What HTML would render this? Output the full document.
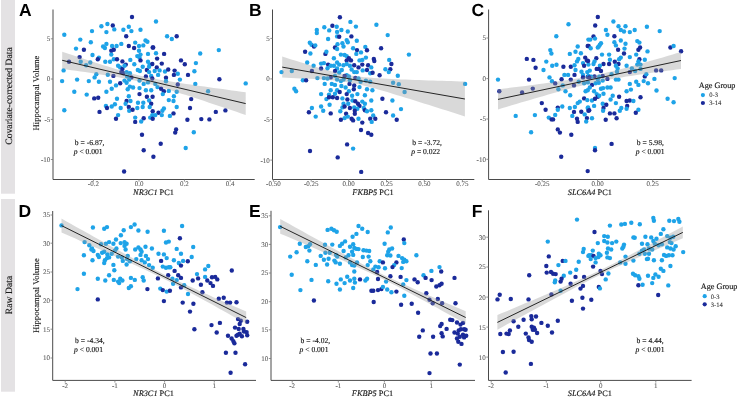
<!DOCTYPE html>
<html><head><meta charset="utf-8"><style>
html,body{margin:0;padding:0;background:#fff;width:739px;height:398px;overflow:hidden}
svg{display:block;will-change:transform}
text{text-rendering:geometricPrecision;font-family:"Liberation Serif",serif}
.s{stroke:currentColor;stroke-width:0.13px}
.t{stroke:currentColor;stroke-width:0.08px}
</style></head><body>
<svg width="739" height="398" viewBox="0 0 739 398"><rect x="1" y="0" width="14" height="193.7" fill="#e4e2e4"/><rect x="1" y="199" width="14" height="192.7" fill="#e4e2e4"/><text transform="translate(12.3,96) rotate(-90)" text-anchor="middle" font-family="Liberation Serif" font-size="9.7" fill="#1a1a1a" class="s" color="#1a1a1a">Covariate-corrected Data</text><text transform="translate(12.3,295) rotate(-90)" text-anchor="middle" font-family="Liberation Serif" font-size="9.7" fill="#1a1a1a" class="s" color="#1a1a1a">Raw Data</text><text transform="translate(39.3,93) rotate(-90)" text-anchor="middle" font-family="Liberation Serif" font-size="8.6" fill="#111" class="s" color="#111">Hippocampal Volume</text><text transform="translate(39.3,295.6) rotate(-90)" text-anchor="middle" font-family="Liberation Serif" font-size="8.6" fill="#111" class="s" color="#111">Hippocampal Volume</text><g><circle cx="132.0" cy="17.0" r="2.2" fill="#1a2a9a"/><circle cx="64.3" cy="34.7" r="2.2" fill="#1ea3e8"/><circle cx="101.4" cy="26.2" r="2.2" fill="#1ea3e8"/><circle cx="107.4" cy="24.0" r="2.2" fill="#1ea3e8"/><circle cx="112.8" cy="25.5" r="2.2" fill="#1a2a9a"/><circle cx="114.3" cy="29.4" r="2.2" fill="#1ea3e8"/><circle cx="106.4" cy="32.1" r="2.2" fill="#1ea3e8"/><circle cx="92.0" cy="31.1" r="2.2" fill="#1ea3e8"/><circle cx="123.4" cy="29.8" r="2.2" fill="#1ea3e8"/><circle cx="128.8" cy="26.8" r="2.2" fill="#1ea3e8"/><circle cx="131.4" cy="31.1" r="2.2" fill="#1ea3e8"/><circle cx="140.5" cy="29.8" r="2.2" fill="#1ea3e8"/><circle cx="126.2" cy="36.2" r="2.2" fill="#1a2a9a"/><circle cx="80.3" cy="39.6" r="2.2" fill="#1ea3e8"/><circle cx="90.8" cy="42.2" r="2.2" fill="#1ea3e8"/><circle cx="76.0" cy="48.6" r="2.2" fill="#1ea3e8"/><circle cx="83.9" cy="49.7" r="2.2" fill="#1a2a9a"/><circle cx="103.1" cy="46.5" r="2.2" fill="#1ea3e8"/><circle cx="104.9" cy="48.0" r="2.2" fill="#1ea3e8"/><circle cx="106.4" cy="43.9" r="2.2" fill="#1ea3e8"/><circle cx="112.1" cy="46.0" r="2.2" fill="#1ea3e8"/><circle cx="116.6" cy="46.0" r="2.2" fill="#1ea3e8"/><circle cx="121.3" cy="43.9" r="2.2" fill="#1ea3e8"/><circle cx="128.8" cy="46.0" r="2.2" fill="#1a2a9a"/><circle cx="134.1" cy="48.0" r="2.2" fill="#1a2a9a"/><circle cx="135.2" cy="42.6" r="2.2" fill="#1ea3e8"/><circle cx="139.0" cy="46.0" r="2.2" fill="#1ea3e8"/><circle cx="143.3" cy="45.4" r="2.2" fill="#1ea3e8"/><circle cx="145.5" cy="40.5" r="2.2" fill="#1ea3e8"/><circle cx="147.4" cy="41.8" r="2.2" fill="#1ea3e8"/><circle cx="152.7" cy="47.5" r="2.2" fill="#1a2a9a"/><circle cx="111.3" cy="50.7" r="2.2" fill="#1a2a9a"/><circle cx="113.8" cy="49.7" r="2.2" fill="#1a2a9a"/><circle cx="111.3" cy="54.6" r="2.2" fill="#1ea3e8"/><circle cx="92.5" cy="55.0" r="2.2" fill="#1ea3e8"/><circle cx="98.9" cy="57.6" r="2.2" fill="#1ea3e8"/><circle cx="97.8" cy="59.3" r="2.2" fill="#1a2a9a"/><circle cx="79.6" cy="57.1" r="2.2" fill="#1a2a9a"/><circle cx="113.8" cy="59.3" r="2.2" fill="#1ea3e8"/><circle cx="117.0" cy="59.3" r="2.2" fill="#1a2a9a"/><circle cx="105.3" cy="61.8" r="2.2" fill="#1ea3e8"/><circle cx="110.0" cy="61.8" r="2.2" fill="#1ea3e8"/><circle cx="122.4" cy="61.4" r="2.2" fill="#1a2a9a"/><circle cx="125.8" cy="64.6" r="2.2" fill="#1a2a9a"/><circle cx="130.3" cy="59.9" r="2.2" fill="#1ea3e8"/><circle cx="134.3" cy="64.2" r="2.2" fill="#1ea3e8"/><circle cx="139.0" cy="50.7" r="2.2" fill="#1ea3e8"/><circle cx="140.5" cy="54.6" r="2.2" fill="#1ea3e8"/><circle cx="139.5" cy="57.6" r="2.2" fill="#1ea3e8"/><circle cx="140.5" cy="60.4" r="2.2" fill="#1a2a9a"/><circle cx="137.3" cy="56.1" r="2.2" fill="#1ea3e8"/><circle cx="148.0" cy="53.9" r="2.2" fill="#1ea3e8"/><circle cx="148.0" cy="61.8" r="2.2" fill="#1ea3e8"/><circle cx="149.7" cy="64.6" r="2.2" fill="#1ea3e8"/><circle cx="152.3" cy="64.0" r="2.2" fill="#1a2a9a"/><circle cx="69.0" cy="61.8" r="2.2" fill="#1a2a9a"/><circle cx="80.7" cy="61.8" r="2.2" fill="#1ea3e8"/><circle cx="86.1" cy="65.3" r="2.2" fill="#1ea3e8"/><circle cx="90.3" cy="62.5" r="2.2" fill="#1ea3e8"/><circle cx="63.6" cy="70.4" r="2.2" fill="#1ea3e8"/><circle cx="62.1" cy="81.1" r="2.2" fill="#1ea3e8"/><circle cx="77.1" cy="79.6" r="2.2" fill="#1ea3e8"/><circle cx="88.8" cy="81.1" r="2.2" fill="#1ea3e8"/><circle cx="94.6" cy="77.4" r="2.2" fill="#1ea3e8"/><circle cx="98.9" cy="81.7" r="2.2" fill="#1ea3e8"/><circle cx="96.3" cy="74.2" r="2.2" fill="#1ea3e8"/><circle cx="107.8" cy="74.7" r="2.2" fill="#1ea3e8"/><circle cx="113.4" cy="75.9" r="2.2" fill="#1a2a9a"/><circle cx="110.0" cy="81.7" r="2.2" fill="#1ea3e8"/><circle cx="118.1" cy="65.7" r="2.2" fill="#1ea3e8"/><circle cx="120.2" cy="67.4" r="2.2" fill="#1ea3e8"/><circle cx="122.4" cy="68.9" r="2.2" fill="#1a2a9a"/><circle cx="124.5" cy="65.7" r="2.2" fill="#1ea3e8"/><circle cx="121.3" cy="72.1" r="2.2" fill="#1a2a9a"/><circle cx="123.4" cy="73.2" r="2.2" fill="#1a2a9a"/><circle cx="126.6" cy="72.1" r="2.2" fill="#1ea3e8"/><circle cx="129.9" cy="73.2" r="2.2" fill="#1ea3e8"/><circle cx="131.4" cy="77.4" r="2.2" fill="#1a2a9a"/><circle cx="127.1" cy="76.4" r="2.2" fill="#1ea3e8"/><circle cx="129.2" cy="79.6" r="2.2" fill="#1ea3e8"/><circle cx="124.5" cy="80.6" r="2.2" fill="#1ea3e8"/><circle cx="120.2" cy="83.2" r="2.2" fill="#1a2a9a"/><circle cx="126.6" cy="82.8" r="2.2" fill="#1ea3e8"/><circle cx="116.0" cy="85.4" r="2.2" fill="#1ea3e8"/><circle cx="111.7" cy="88.8" r="2.2" fill="#1ea3e8"/><circle cx="129.9" cy="86.6" r="2.2" fill="#1ea3e8"/><circle cx="127.7" cy="89.2" r="2.2" fill="#1ea3e8"/><circle cx="133.1" cy="87.5" r="2.2" fill="#1ea3e8"/><circle cx="137.8" cy="70.0" r="2.2" fill="#1ea3e8"/><circle cx="139.9" cy="71.0" r="2.2" fill="#1ea3e8"/><circle cx="142.7" cy="66.8" r="2.2" fill="#1ea3e8"/><circle cx="146.9" cy="70.0" r="2.2" fill="#1a2a9a"/><circle cx="149.1" cy="72.1" r="2.2" fill="#1ea3e8"/><circle cx="145.9" cy="76.4" r="2.2" fill="#1a2a9a"/><circle cx="151.2" cy="75.9" r="2.2" fill="#1ea3e8"/><circle cx="152.3" cy="78.5" r="2.2" fill="#1a2a9a"/><circle cx="139.5" cy="80.6" r="2.2" fill="#1ea3e8"/><circle cx="143.7" cy="83.9" r="2.2" fill="#1ea3e8"/><circle cx="148.0" cy="82.4" r="2.2" fill="#1ea3e8"/><circle cx="139.5" cy="88.1" r="2.2" fill="#1ea3e8"/><circle cx="145.9" cy="90.3" r="2.2" fill="#1ea3e8"/><circle cx="151.2" cy="90.3" r="2.2" fill="#1ea3e8"/><circle cx="74.3" cy="91.8" r="2.2" fill="#1ea3e8"/><circle cx="106.4" cy="91.8" r="2.2" fill="#1ea3e8"/><circle cx="149.1" cy="66.8" r="2.2" fill="#1ea3e8"/><circle cx="156.0" cy="21.5" r="2.2" fill="#1ea3e8"/><circle cx="167.1" cy="36.2" r="2.2" fill="#1ea3e8"/><circle cx="171.8" cy="39.0" r="2.2" fill="#1ea3e8"/><circle cx="176.7" cy="36.2" r="2.2" fill="#1a2a9a"/><circle cx="153.2" cy="47.5" r="2.2" fill="#1a2a9a"/><circle cx="156.0" cy="53.3" r="2.2" fill="#1ea3e8"/><circle cx="164.1" cy="53.9" r="2.2" fill="#1a2a9a"/><circle cx="157.1" cy="58.6" r="2.2" fill="#1a2a9a"/><circle cx="156.8" cy="67.4" r="2.2" fill="#1a2a9a"/><circle cx="161.8" cy="63.6" r="2.2" fill="#1a2a9a"/><circle cx="159.6" cy="70.4" r="2.2" fill="#1ea3e8"/><circle cx="154.7" cy="71.0" r="2.2" fill="#1ea3e8"/><circle cx="165.0" cy="71.5" r="2.2" fill="#1ea3e8"/><circle cx="168.2" cy="69.5" r="2.2" fill="#1a2a9a"/><circle cx="174.6" cy="70.6" r="2.2" fill="#1a2a9a"/><circle cx="177.8" cy="73.8" r="2.2" fill="#1ea3e8"/><circle cx="173.9" cy="74.9" r="2.2" fill="#1a2a9a"/><circle cx="158.1" cy="74.9" r="2.2" fill="#1ea3e8"/><circle cx="166.0" cy="77.7" r="2.2" fill="#1a2a9a"/><circle cx="179.9" cy="79.6" r="2.2" fill="#1ea3e8"/><circle cx="188.0" cy="74.9" r="2.2" fill="#1a2a9a"/><circle cx="181.0" cy="60.4" r="2.2" fill="#1a2a9a"/><circle cx="184.8" cy="64.2" r="2.2" fill="#1a2a9a"/><circle cx="195.9" cy="63.1" r="2.2" fill="#1ea3e8"/><circle cx="194.4" cy="71.2" r="2.2" fill="#1ea3e8"/><circle cx="200.2" cy="53.5" r="2.2" fill="#1ea3e8"/><circle cx="218.8" cy="50.1" r="2.2" fill="#1ea3e8"/><circle cx="219.4" cy="79.2" r="2.2" fill="#1a2a9a"/><circle cx="195.3" cy="83.9" r="2.2" fill="#1ea3e8"/><circle cx="245.7" cy="83.4" r="2.2" fill="#1ea3e8"/><circle cx="177.8" cy="84.5" r="2.2" fill="#1a2a9a"/><circle cx="166.0" cy="81.3" r="2.2" fill="#1ea3e8"/><circle cx="155.3" cy="83.9" r="2.2" fill="#1ea3e8"/><circle cx="157.5" cy="87.1" r="2.2" fill="#1ea3e8"/><circle cx="161.1" cy="88.8" r="2.2" fill="#1a2a9a"/><circle cx="163.9" cy="91.3" r="2.2" fill="#1a2a9a"/><circle cx="168.8" cy="90.9" r="2.2" fill="#1ea3e8"/><circle cx="176.7" cy="91.8" r="2.2" fill="#1ea3e8"/><circle cx="208.1" cy="91.3" r="2.2" fill="#1ea3e8"/><circle cx="86.7" cy="94.6" r="2.2" fill="#1ea3e8"/><circle cx="64.3" cy="110.2" r="2.2" fill="#1ea3e8"/><circle cx="94.2" cy="98.4" r="2.2" fill="#1a2a9a"/><circle cx="98.2" cy="97.8" r="2.2" fill="#1a2a9a"/><circle cx="99.5" cy="111.9" r="2.2" fill="#1a2a9a"/><circle cx="105.9" cy="105.9" r="2.2" fill="#1ea3e8"/><circle cx="107.0" cy="108.0" r="2.2" fill="#1a2a9a"/><circle cx="111.7" cy="106.5" r="2.2" fill="#1ea3e8"/><circle cx="114.9" cy="104.2" r="2.2" fill="#1ea3e8"/><circle cx="117.0" cy="98.8" r="2.2" fill="#1ea3e8"/><circle cx="120.7" cy="108.0" r="2.2" fill="#1ea3e8"/><circle cx="118.1" cy="115.1" r="2.2" fill="#1ea3e8"/><circle cx="116.0" cy="118.7" r="2.2" fill="#1a2a9a"/><circle cx="126.6" cy="101.0" r="2.2" fill="#1a2a9a"/><circle cx="125.6" cy="103.8" r="2.2" fill="#1ea3e8"/><circle cx="128.8" cy="96.3" r="2.2" fill="#1ea3e8"/><circle cx="130.5" cy="101.0" r="2.2" fill="#1ea3e8"/><circle cx="128.8" cy="107.0" r="2.2" fill="#1a2a9a"/><circle cx="129.2" cy="110.8" r="2.2" fill="#1ea3e8"/><circle cx="132.6" cy="109.7" r="2.2" fill="#1a2a9a"/><circle cx="137.3" cy="108.0" r="2.2" fill="#1ea3e8"/><circle cx="138.0" cy="102.7" r="2.2" fill="#1ea3e8"/><circle cx="143.3" cy="102.7" r="2.2" fill="#1ea3e8"/><circle cx="142.7" cy="107.0" r="2.2" fill="#1ea3e8"/><circle cx="146.9" cy="96.7" r="2.2" fill="#1a2a9a"/><circle cx="149.1" cy="100.5" r="2.2" fill="#1ea3e8"/><circle cx="151.2" cy="103.8" r="2.2" fill="#1a2a9a"/><circle cx="149.7" cy="107.0" r="2.2" fill="#1ea3e8"/><circle cx="152.7" cy="111.2" r="2.2" fill="#1a2a9a"/><circle cx="152.3" cy="115.1" r="2.2" fill="#1ea3e8"/><circle cx="150.2" cy="117.6" r="2.2" fill="#1ea3e8"/><circle cx="152.7" cy="118.7" r="2.2" fill="#1a2a9a"/><circle cx="143.7" cy="118.3" r="2.2" fill="#1a2a9a"/><circle cx="141.2" cy="121.5" r="2.2" fill="#1ea3e8"/><circle cx="135.2" cy="121.9" r="2.2" fill="#1a2a9a"/><circle cx="135.2" cy="117.6" r="2.2" fill="#1ea3e8"/><circle cx="139.5" cy="94.1" r="2.2" fill="#1a2a9a"/><circle cx="142.0" cy="134.7" r="2.2" fill="#1a2a9a"/><circle cx="143.7" cy="150.3" r="2.2" fill="#1a2a9a"/><circle cx="153.4" cy="156.7" r="2.2" fill="#1a2a9a"/><circle cx="124.1" cy="171.5" r="2.2" fill="#1a2a9a"/><circle cx="152.6" cy="96.7" r="2.2" fill="#1a2a9a"/><circle cx="162.8" cy="94.1" r="2.2" fill="#1ea3e8"/><circle cx="173.9" cy="96.3" r="2.2" fill="#1ea3e8"/><circle cx="168.8" cy="100.1" r="2.2" fill="#1ea3e8"/><circle cx="173.5" cy="101.0" r="2.2" fill="#1ea3e8"/><circle cx="191.2" cy="99.1" r="2.2" fill="#1a2a9a"/><circle cx="190.0" cy="108.0" r="2.2" fill="#1a2a9a"/><circle cx="176.7" cy="107.0" r="2.2" fill="#1ea3e8"/><circle cx="163.9" cy="108.5" r="2.2" fill="#1ea3e8"/><circle cx="162.4" cy="110.8" r="2.2" fill="#1ea3e8"/><circle cx="158.5" cy="112.7" r="2.2" fill="#1a2a9a"/><circle cx="173.5" cy="113.4" r="2.2" fill="#1a2a9a"/><circle cx="169.9" cy="115.9" r="2.2" fill="#1ea3e8"/><circle cx="161.8" cy="115.1" r="2.2" fill="#1ea3e8"/><circle cx="155.3" cy="115.1" r="2.2" fill="#1ea3e8"/><circle cx="187.4" cy="119.8" r="2.2" fill="#1a2a9a"/><circle cx="201.3" cy="119.1" r="2.2" fill="#1a2a9a"/><circle cx="209.4" cy="119.4" r="2.2" fill="#1a2a9a"/><circle cx="215.8" cy="111.9" r="2.2" fill="#1a2a9a"/><circle cx="225.4" cy="110.4" r="2.2" fill="#1a2a9a"/><circle cx="176.1" cy="129.4" r="2.2" fill="#1a2a9a"/><circle cx="175.2" cy="132.6" r="2.2" fill="#1a2a9a"/><circle cx="193.8" cy="132.2" r="2.2" fill="#1ea3e8"/><circle cx="160.7" cy="143.7" r="2.2" fill="#1a2a9a"/><circle cx="185.7" cy="148.0" r="2.2" fill="#1ea3e8"/><path d="M62.2,51.7 L66.8,53.2 L71.4,54.7 L76.0,56.3 L80.6,57.8 L85.1,59.3 L89.7,60.8 L94.3,62.3 L98.9,63.7 L103.5,65.2 L108.1,66.6 L112.7,68.1 L117.2,69.5 L121.8,70.8 L126.4,72.1 L131.0,73.4 L135.6,74.6 L140.2,75.7 L144.8,76.7 L149.4,77.7 L153.9,78.6 L158.5,79.5 L163.1,80.3 L167.7,81.1 L172.3,81.8 L176.9,82.5 L181.5,83.2 L186.1,83.9 L190.6,84.6 L195.2,85.3 L199.8,85.9 L204.4,86.6 L209.0,87.2 L213.6,87.9 L218.2,88.5 L222.8,89.1 L227.4,89.8 L231.9,90.4 L236.5,91.0 L241.1,91.7 L245.7,92.3 L245.7,114.9 L241.1,113.4 L236.5,111.8 L231.9,110.3 L227.4,108.8 L222.8,107.2 L218.2,105.7 L213.6,104.2 L209.0,102.7 L204.4,101.1 L199.8,99.6 L195.2,98.1 L190.6,96.6 L186.1,95.1 L181.5,93.7 L176.9,92.2 L172.3,90.7 L167.7,89.3 L163.1,87.9 L158.5,86.6 L153.9,85.3 L149.4,84.0 L144.8,82.8 L140.2,81.7 L135.6,80.7 L131.0,79.7 L126.4,78.8 L121.8,77.9 L117.2,77.1 L112.7,76.3 L108.1,75.6 L103.5,74.9 L98.9,74.2 L94.3,73.5 L89.7,72.8 L85.1,72.1 L80.6,71.5 L76.0,70.8 L71.4,70.2 L66.8,69.5 L62.2,68.9 Z" fill="#999" fill-opacity="0.37"/><line x1="62.2" y1="60.3" x2="245.7" y2="103.6" stroke="#1a1a1a" stroke-width="0.95"/><path d="M53,9.5 V179.5 H254.7" fill="none" stroke="#4a4a4a" stroke-width="1"/><line x1="93.4" y1="179.5" x2="93.4" y2="181.7" stroke="#777" stroke-width="0.8"/><text x="93.4" y="186.4" text-anchor="middle" font-family="Liberation Serif" font-size="7" fill="#5a5a5a" class="t" color="#5a5a5a">-0.2</text><line x1="139" y1="179.5" x2="139" y2="181.7" stroke="#777" stroke-width="0.8"/><text x="139" y="186.4" text-anchor="middle" font-family="Liberation Serif" font-size="7" fill="#5a5a5a" class="t" color="#5a5a5a">0.0</text><line x1="184.4" y1="179.5" x2="184.4" y2="181.7" stroke="#777" stroke-width="0.8"/><text x="184.4" y="186.4" text-anchor="middle" font-family="Liberation Serif" font-size="7" fill="#5a5a5a" class="t" color="#5a5a5a">0.2</text><line x1="230.2" y1="179.5" x2="230.2" y2="181.7" stroke="#777" stroke-width="0.8"/><text x="230.2" y="186.4" text-anchor="middle" font-family="Liberation Serif" font-size="7" fill="#5a5a5a" class="t" color="#5a5a5a">0.4</text><line x1="50.8" y1="38.8" x2="53" y2="38.8" stroke="#777" stroke-width="0.8"/><text x="50.3" y="41.199999999999996" text-anchor="end" font-family="Liberation Serif" font-size="7" fill="#5a5a5a" class="t" color="#5a5a5a">5</text><line x1="50.8" y1="79" x2="53" y2="79" stroke="#777" stroke-width="0.8"/><text x="50.3" y="81.4" text-anchor="end" font-family="Liberation Serif" font-size="7" fill="#5a5a5a" class="t" color="#5a5a5a">0</text><line x1="50.8" y1="119.4" x2="53" y2="119.4" stroke="#777" stroke-width="0.8"/><text x="50.3" y="121.80000000000001" text-anchor="end" font-family="Liberation Serif" font-size="7" fill="#5a5a5a" class="t" color="#5a5a5a">-5</text><line x1="50.8" y1="159.5" x2="53" y2="159.5" stroke="#777" stroke-width="0.8"/><text x="50.3" y="161.9" text-anchor="end" font-family="Liberation Serif" font-size="7" fill="#5a5a5a" class="t" color="#5a5a5a">-10</text><text x="19" y="15.5" style="font-family:&quot;Liberation Sans&quot;,sans-serif;font-weight:bold;font-size:17.5px" fill="#000">A</text><text x="153.5" y="194.8" text-anchor="middle" font-family="Liberation Serif" font-size="8.3" fill="#111" class="s" color="#111"><tspan font-style="italic">NR3C1</tspan> PC1</text><text x="74.8" y="144.5" font-family="Liberation Serif" font-size="7.6" fill="#111" class="s" color="#111">b = -6.87,</text><text x="73.7" y="153.6" font-family="Liberation Serif" font-size="7.6" fill="#111" class="s" color="#111"><tspan font-style="italic">p</tspan> &lt; 0.001</text></g><g><circle cx="339.9" cy="17.2" r="2.2" fill="#1a2a9a"/><circle cx="350.4" cy="21.9" r="2.2" fill="#1ea3e8"/><circle cx="355.9" cy="26.6" r="2.2" fill="#1ea3e8"/><circle cx="332.4" cy="25.7" r="2.2" fill="#1a2a9a"/><circle cx="336.7" cy="26.8" r="2.2" fill="#1ea3e8"/><circle cx="324.3" cy="27.2" r="2.2" fill="#1ea3e8"/><circle cx="316.8" cy="30.0" r="2.2" fill="#1ea3e8"/><circle cx="316.8" cy="33.0" r="2.2" fill="#1ea3e8"/><circle cx="329.2" cy="30.4" r="2.2" fill="#1ea3e8"/><circle cx="337.1" cy="31.9" r="2.2" fill="#1ea3e8"/><circle cx="341.4" cy="30.0" r="2.2" fill="#1ea3e8"/><circle cx="347.8" cy="31.5" r="2.2" fill="#1ea3e8"/><circle cx="337.1" cy="36.4" r="2.2" fill="#1ea3e8"/><circle cx="339.2" cy="36.8" r="2.2" fill="#1a2a9a"/><circle cx="351.4" cy="36.4" r="2.2" fill="#1a2a9a"/><circle cx="328.1" cy="39.0" r="2.2" fill="#1ea3e8"/><circle cx="346.7" cy="40.1" r="2.2" fill="#1ea3e8"/><circle cx="347.8" cy="42.2" r="2.2" fill="#1ea3e8"/><circle cx="356.8" cy="40.7" r="2.2" fill="#1ea3e8"/><circle cx="309.8" cy="42.8" r="2.2" fill="#1ea3e8"/><circle cx="311.5" cy="44.8" r="2.2" fill="#1ea3e8"/><circle cx="314.0" cy="46.5" r="2.2" fill="#1a2a9a"/><circle cx="315.3" cy="45.4" r="2.2" fill="#1ea3e8"/><circle cx="337.5" cy="44.3" r="2.2" fill="#1ea3e8"/><circle cx="342.4" cy="43.3" r="2.2" fill="#1ea3e8"/><circle cx="343.5" cy="46.5" r="2.2" fill="#1ea3e8"/><circle cx="335.0" cy="47.5" r="2.2" fill="#1a2a9a"/><circle cx="337.1" cy="49.0" r="2.2" fill="#1ea3e8"/><circle cx="353.1" cy="48.2" r="2.2" fill="#1ea3e8"/><circle cx="357.0" cy="50.1" r="2.2" fill="#1a2a9a"/><circle cx="365.3" cy="46.9" r="2.2" fill="#1ea3e8"/><circle cx="367.0" cy="50.3" r="2.2" fill="#1a2a9a"/><circle cx="305.1" cy="51.8" r="2.2" fill="#1a2a9a"/><circle cx="310.4" cy="53.5" r="2.2" fill="#1ea3e8"/><circle cx="325.4" cy="53.9" r="2.2" fill="#1a2a9a"/><circle cx="326.4" cy="51.8" r="2.2" fill="#1ea3e8"/><circle cx="340.9" cy="54.6" r="2.2" fill="#1ea3e8"/><circle cx="344.6" cy="55.0" r="2.2" fill="#1ea3e8"/><circle cx="346.7" cy="56.1" r="2.2" fill="#1ea3e8"/><circle cx="348.9" cy="58.2" r="2.2" fill="#1a2a9a"/><circle cx="351.0" cy="60.4" r="2.2" fill="#1a2a9a"/><circle cx="346.7" cy="60.4" r="2.2" fill="#1a2a9a"/><circle cx="356.3" cy="53.9" r="2.2" fill="#1ea3e8"/><circle cx="361.0" cy="52.4" r="2.2" fill="#1ea3e8"/><circle cx="365.9" cy="57.6" r="2.2" fill="#1ea3e8"/><circle cx="333.9" cy="58.2" r="2.2" fill="#1ea3e8"/><circle cx="337.1" cy="62.5" r="2.2" fill="#1ea3e8"/><circle cx="307.2" cy="62.5" r="2.2" fill="#1ea3e8"/><circle cx="313.6" cy="65.7" r="2.2" fill="#1ea3e8"/><circle cx="321.1" cy="63.6" r="2.2" fill="#1ea3e8"/><circle cx="323.9" cy="63.1" r="2.2" fill="#1ea3e8"/><circle cx="328.1" cy="64.6" r="2.2" fill="#1a2a9a"/><circle cx="330.7" cy="65.7" r="2.2" fill="#1ea3e8"/><circle cx="321.1" cy="68.5" r="2.2" fill="#1a2a9a"/><circle cx="327.5" cy="68.3" r="2.2" fill="#1ea3e8"/><circle cx="333.9" cy="65.7" r="2.2" fill="#1ea3e8"/><circle cx="339.2" cy="64.6" r="2.2" fill="#1ea3e8"/><circle cx="343.5" cy="65.3" r="2.2" fill="#1ea3e8"/><circle cx="346.7" cy="64.0" r="2.2" fill="#1ea3e8"/><circle cx="349.9" cy="65.7" r="2.2" fill="#1ea3e8"/><circle cx="354.2" cy="65.3" r="2.2" fill="#1a2a9a"/><circle cx="358.5" cy="67.4" r="2.2" fill="#1a2a9a"/><circle cx="359.5" cy="60.4" r="2.2" fill="#1ea3e8"/><circle cx="362.3" cy="59.9" r="2.2" fill="#1ea3e8"/><circle cx="362.3" cy="64.6" r="2.2" fill="#1a2a9a"/><circle cx="368.1" cy="65.3" r="2.2" fill="#1a2a9a"/><circle cx="371.3" cy="67.4" r="2.2" fill="#1ea3e8"/><circle cx="337.1" cy="68.5" r="2.2" fill="#1ea3e8"/><circle cx="341.8" cy="70.0" r="2.2" fill="#1ea3e8"/><circle cx="351.6" cy="69.5" r="2.2" fill="#1ea3e8"/><circle cx="354.2" cy="72.1" r="2.2" fill="#1ea3e8"/><circle cx="356.8" cy="72.1" r="2.2" fill="#1ea3e8"/><circle cx="362.7" cy="70.4" r="2.2" fill="#1ea3e8"/><circle cx="367.0" cy="70.0" r="2.2" fill="#1a2a9a"/><circle cx="370.2" cy="73.2" r="2.2" fill="#1ea3e8"/><circle cx="335.0" cy="71.0" r="2.2" fill="#1a2a9a"/><circle cx="339.2" cy="72.5" r="2.2" fill="#1ea3e8"/><circle cx="311.9" cy="71.0" r="2.2" fill="#1a2a9a"/><circle cx="281.5" cy="72.1" r="2.2" fill="#1ea3e8"/><circle cx="291.8" cy="71.0" r="2.2" fill="#1ea3e8"/><circle cx="346.7" cy="75.3" r="2.2" fill="#1ea3e8"/><circle cx="348.9" cy="76.4" r="2.2" fill="#1ea3e8"/><circle cx="344.6" cy="75.9" r="2.2" fill="#1a2a9a"/><circle cx="335.0" cy="75.9" r="2.2" fill="#1ea3e8"/><circle cx="330.7" cy="77.4" r="2.2" fill="#1a2a9a"/><circle cx="327.5" cy="78.5" r="2.2" fill="#1ea3e8"/><circle cx="323.9" cy="78.1" r="2.2" fill="#1ea3e8"/><circle cx="317.4" cy="78.1" r="2.2" fill="#1ea3e8"/><circle cx="302.9" cy="80.2" r="2.2" fill="#1ea3e8"/><circle cx="306.1" cy="80.2" r="2.2" fill="#1a2a9a"/><circle cx="337.1" cy="79.6" r="2.2" fill="#1ea3e8"/><circle cx="340.9" cy="81.1" r="2.2" fill="#1ea3e8"/><circle cx="343.5" cy="79.6" r="2.2" fill="#1ea3e8"/><circle cx="349.9" cy="80.2" r="2.2" fill="#1ea3e8"/><circle cx="355.3" cy="77.9" r="2.2" fill="#1a2a9a"/><circle cx="358.5" cy="78.5" r="2.2" fill="#1ea3e8"/><circle cx="360.6" cy="81.7" r="2.2" fill="#1ea3e8"/><circle cx="365.9" cy="80.6" r="2.2" fill="#1ea3e8"/><circle cx="370.2" cy="81.7" r="2.2" fill="#1ea3e8"/><circle cx="324.7" cy="83.9" r="2.2" fill="#1ea3e8"/><circle cx="331.8" cy="83.9" r="2.2" fill="#1ea3e8"/><circle cx="335.0" cy="84.9" r="2.2" fill="#1ea3e8"/><circle cx="341.4" cy="86.0" r="2.2" fill="#1ea3e8"/><circle cx="345.6" cy="87.5" r="2.2" fill="#1ea3e8"/><circle cx="349.5" cy="83.9" r="2.2" fill="#1a2a9a"/><circle cx="354.2" cy="85.4" r="2.2" fill="#1a2a9a"/><circle cx="353.8" cy="89.2" r="2.2" fill="#1a2a9a"/><circle cx="359.5" cy="87.1" r="2.2" fill="#1ea3e8"/><circle cx="367.0" cy="89.2" r="2.2" fill="#1ea3e8"/><circle cx="372.4" cy="90.3" r="2.2" fill="#1ea3e8"/><circle cx="294.4" cy="88.8" r="2.2" fill="#1ea3e8"/><circle cx="296.1" cy="91.3" r="2.2" fill="#1ea3e8"/><circle cx="330.7" cy="90.3" r="2.2" fill="#1ea3e8"/><circle cx="337.1" cy="90.3" r="2.2" fill="#1ea3e8"/><circle cx="339.7" cy="92.0" r="2.2" fill="#1a2a9a"/><circle cx="348.9" cy="91.3" r="2.2" fill="#1ea3e8"/><circle cx="376.4" cy="24.7" r="2.2" fill="#1ea3e8"/><circle cx="387.7" cy="35.1" r="2.2" fill="#1ea3e8"/><circle cx="381.1" cy="48.2" r="2.2" fill="#1a2a9a"/><circle cx="408.9" cy="54.6" r="2.2" fill="#1ea3e8"/><circle cx="373.8" cy="58.9" r="2.2" fill="#1a2a9a"/><circle cx="374.3" cy="61.0" r="2.2" fill="#1a2a9a"/><circle cx="389.2" cy="59.9" r="2.2" fill="#1ea3e8"/><circle cx="391.4" cy="64.0" r="2.2" fill="#1a2a9a"/><circle cx="372.6" cy="72.7" r="2.2" fill="#1a2a9a"/><circle cx="385.4" cy="69.3" r="2.2" fill="#1ea3e8"/><circle cx="390.3" cy="69.3" r="2.2" fill="#1a2a9a"/><circle cx="388.8" cy="72.1" r="2.2" fill="#1ea3e8"/><circle cx="379.6" cy="75.3" r="2.2" fill="#1a2a9a"/><circle cx="397.8" cy="75.7" r="2.2" fill="#1ea3e8"/><circle cx="393.1" cy="82.8" r="2.2" fill="#1ea3e8"/><circle cx="398.8" cy="84.3" r="2.2" fill="#1ea3e8"/><circle cx="404.6" cy="92.0" r="2.2" fill="#1ea3e8"/><circle cx="465.1" cy="83.9" r="2.2" fill="#1ea3e8"/><circle cx="321.1" cy="94.1" r="2.2" fill="#1ea3e8"/><circle cx="329.0" cy="94.6" r="2.2" fill="#1ea3e8"/><circle cx="335.0" cy="93.7" r="2.2" fill="#1ea3e8"/><circle cx="346.7" cy="94.1" r="2.2" fill="#1a2a9a"/><circle cx="352.1" cy="95.8" r="2.2" fill="#1ea3e8"/><circle cx="357.4" cy="94.1" r="2.2" fill="#1ea3e8"/><circle cx="364.9" cy="95.2" r="2.2" fill="#1ea3e8"/><circle cx="326.4" cy="99.1" r="2.2" fill="#1ea3e8"/><circle cx="329.0" cy="97.3" r="2.2" fill="#1a2a9a"/><circle cx="332.8" cy="97.3" r="2.2" fill="#1a2a9a"/><circle cx="337.1" cy="98.0" r="2.2" fill="#1a2a9a"/><circle cx="342.4" cy="98.4" r="2.2" fill="#1ea3e8"/><circle cx="347.4" cy="99.5" r="2.2" fill="#1a2a9a"/><circle cx="352.5" cy="100.5" r="2.2" fill="#1ea3e8"/><circle cx="355.3" cy="101.2" r="2.2" fill="#1a2a9a"/><circle cx="358.0" cy="103.8" r="2.2" fill="#1a2a9a"/><circle cx="359.5" cy="105.9" r="2.2" fill="#1a2a9a"/><circle cx="362.3" cy="101.6" r="2.2" fill="#1ea3e8"/><circle cx="364.9" cy="103.8" r="2.2" fill="#1ea3e8"/><circle cx="371.3" cy="100.5" r="2.2" fill="#1ea3e8"/><circle cx="343.5" cy="103.8" r="2.2" fill="#1ea3e8"/><circle cx="348.2" cy="103.8" r="2.2" fill="#1ea3e8"/><circle cx="342.4" cy="107.4" r="2.2" fill="#1ea3e8"/><circle cx="344.6" cy="106.5" r="2.2" fill="#1a2a9a"/><circle cx="349.9" cy="108.0" r="2.2" fill="#1a2a9a"/><circle cx="354.2" cy="107.4" r="2.2" fill="#1ea3e8"/><circle cx="357.4" cy="108.7" r="2.2" fill="#1ea3e8"/><circle cx="363.8" cy="108.0" r="2.2" fill="#1ea3e8"/><circle cx="364.9" cy="110.2" r="2.2" fill="#1a2a9a"/><circle cx="367.0" cy="111.2" r="2.2" fill="#1ea3e8"/><circle cx="371.3" cy="110.2" r="2.2" fill="#1ea3e8"/><circle cx="311.9" cy="108.0" r="2.2" fill="#1ea3e8"/><circle cx="321.1" cy="106.5" r="2.2" fill="#1ea3e8"/><circle cx="323.2" cy="110.8" r="2.2" fill="#1ea3e8"/><circle cx="308.9" cy="112.3" r="2.2" fill="#1a2a9a"/><circle cx="329.6" cy="104.8" r="2.2" fill="#1ea3e8"/><circle cx="330.7" cy="113.4" r="2.2" fill="#1a2a9a"/><circle cx="315.7" cy="116.6" r="2.2" fill="#1ea3e8"/><circle cx="340.3" cy="111.2" r="2.2" fill="#1ea3e8"/><circle cx="346.1" cy="113.8" r="2.2" fill="#1a2a9a"/><circle cx="354.8" cy="110.8" r="2.2" fill="#1a2a9a"/><circle cx="354.8" cy="113.8" r="2.2" fill="#1a2a9a"/><circle cx="347.8" cy="116.6" r="2.2" fill="#1ea3e8"/><circle cx="344.6" cy="118.1" r="2.2" fill="#1ea3e8"/><circle cx="340.9" cy="119.8" r="2.2" fill="#1a2a9a"/><circle cx="351.6" cy="118.7" r="2.2" fill="#1a2a9a"/><circle cx="353.1" cy="120.4" r="2.2" fill="#1a2a9a"/><circle cx="358.5" cy="118.7" r="2.2" fill="#1ea3e8"/><circle cx="362.3" cy="122.6" r="2.2" fill="#1a2a9a"/><circle cx="370.2" cy="118.7" r="2.2" fill="#1a2a9a"/><circle cx="371.7" cy="121.9" r="2.2" fill="#1ea3e8"/><circle cx="361.0" cy="130.0" r="2.2" fill="#1a2a9a"/><circle cx="368.1" cy="133.0" r="2.2" fill="#1a2a9a"/><circle cx="371.3" cy="134.7" r="2.2" fill="#1a2a9a"/><circle cx="347.1" cy="144.4" r="2.2" fill="#1a2a9a"/><circle cx="353.1" cy="148.6" r="2.2" fill="#1ea3e8"/><circle cx="310.0" cy="151.0" r="2.2" fill="#1a2a9a"/><circle cx="337.7" cy="157.4" r="2.2" fill="#1a2a9a"/><circle cx="361.2" cy="171.9" r="2.2" fill="#1a2a9a"/><circle cx="382.4" cy="98.8" r="2.2" fill="#1a2a9a"/><circle cx="392.4" cy="100.5" r="2.2" fill="#1ea3e8"/><circle cx="401.0" cy="109.1" r="2.2" fill="#1ea3e8"/><circle cx="386.0" cy="112.3" r="2.2" fill="#1a2a9a"/><circle cx="393.1" cy="115.5" r="2.2" fill="#1ea3e8"/><circle cx="396.7" cy="119.8" r="2.2" fill="#1a2a9a"/><circle cx="373.2" cy="115.5" r="2.2" fill="#1ea3e8"/><circle cx="375.3" cy="118.7" r="2.2" fill="#1a2a9a"/><path d="M282.2,56.5 L286.8,58.0 L291.3,59.4 L295.9,60.8 L300.5,62.2 L305.0,63.6 L309.6,65.0 L314.2,66.4 L318.7,67.7 L323.3,69.0 L327.9,70.3 L332.4,71.5 L337.0,72.6 L341.6,73.7 L346.1,74.6 L350.7,75.5 L355.3,76.2 L359.8,76.7 L364.4,77.2 L369.0,77.6 L373.5,78.0 L378.1,78.3 L382.7,78.5 L387.3,78.8 L391.8,79.0 L396.4,79.2 L401.0,79.4 L405.5,79.6 L410.1,79.8 L414.7,79.9 L419.2,80.1 L423.8,80.2 L428.4,80.4 L432.9,80.6 L437.5,80.7 L442.1,80.8 L446.6,81.0 L451.2,81.1 L455.8,81.3 L460.3,81.4 L464.9,81.5 L464.9,116.5 L460.3,115.0 L455.8,113.5 L451.2,112.1 L446.6,110.6 L442.1,109.2 L437.5,107.7 L432.9,106.3 L428.4,104.8 L423.8,103.4 L419.2,102.0 L414.7,100.5 L410.1,99.1 L405.5,97.7 L401.0,96.3 L396.4,94.9 L391.8,93.5 L387.3,92.1 L382.7,90.7 L378.1,89.4 L373.5,88.1 L369.0,86.9 L364.4,85.7 L359.8,84.6 L355.3,83.6 L350.7,82.7 L346.1,81.9 L341.6,81.2 L337.0,80.7 L332.4,80.3 L327.9,79.9 L323.3,79.5 L318.7,79.3 L314.2,79.0 L309.6,78.8 L305.0,78.6 L300.5,78.4 L295.9,78.2 L291.3,78.0 L286.8,77.8 L282.2,77.6 Z" fill="#999" fill-opacity="0.37"/><line x1="282.2" y1="67.1" x2="464.9" y2="99" stroke="#1a1a1a" stroke-width="0.95"/><path d="M272.5,9.5 V179.5 H474.3" fill="none" stroke="#4a4a4a" stroke-width="1"/><line x1="273.4" y1="179.5" x2="273.4" y2="181.7" stroke="#777" stroke-width="0.8"/><text x="273.4" y="186.4" text-anchor="middle" font-family="Liberation Serif" font-size="7" fill="#5a5a5a" class="t" color="#5a5a5a">-0.50</text><line x1="311.2" y1="179.5" x2="311.2" y2="181.7" stroke="#777" stroke-width="0.8"/><text x="311.2" y="186.4" text-anchor="middle" font-family="Liberation Serif" font-size="7" fill="#5a5a5a" class="t" color="#5a5a5a">-0.25</text><line x1="348.7" y1="179.5" x2="348.7" y2="181.7" stroke="#777" stroke-width="0.8"/><text x="348.7" y="186.4" text-anchor="middle" font-family="Liberation Serif" font-size="7" fill="#5a5a5a" class="t" color="#5a5a5a">0.00</text><line x1="386.5" y1="179.5" x2="386.5" y2="181.7" stroke="#777" stroke-width="0.8"/><text x="386.5" y="186.4" text-anchor="middle" font-family="Liberation Serif" font-size="7" fill="#5a5a5a" class="t" color="#5a5a5a">0.25</text><line x1="424.3" y1="179.5" x2="424.3" y2="181.7" stroke="#777" stroke-width="0.8"/><text x="424.3" y="186.4" text-anchor="middle" font-family="Liberation Serif" font-size="7" fill="#5a5a5a" class="t" color="#5a5a5a">0.50</text><line x1="462.4" y1="179.5" x2="462.4" y2="181.7" stroke="#777" stroke-width="0.8"/><text x="462.4" y="186.4" text-anchor="middle" font-family="Liberation Serif" font-size="7" fill="#5a5a5a" class="t" color="#5a5a5a">0.75</text><line x1="270.3" y1="38.4" x2="272.5" y2="38.4" stroke="#777" stroke-width="0.8"/><text x="269.8" y="40.8" text-anchor="end" font-family="Liberation Serif" font-size="7" fill="#5a5a5a" class="t" color="#5a5a5a">5</text><line x1="270.3" y1="78.9" x2="272.5" y2="78.9" stroke="#777" stroke-width="0.8"/><text x="269.8" y="81.30000000000001" text-anchor="end" font-family="Liberation Serif" font-size="7" fill="#5a5a5a" class="t" color="#5a5a5a">0</text><line x1="270.3" y1="119.5" x2="272.5" y2="119.5" stroke="#777" stroke-width="0.8"/><text x="269.8" y="121.9" text-anchor="end" font-family="Liberation Serif" font-size="7" fill="#5a5a5a" class="t" color="#5a5a5a">-5</text><line x1="270.3" y1="160.1" x2="272.5" y2="160.1" stroke="#777" stroke-width="0.8"/><text x="269.8" y="162.5" text-anchor="end" font-family="Liberation Serif" font-size="7" fill="#5a5a5a" class="t" color="#5a5a5a">-10</text><text x="249" y="15.5" style="font-family:&quot;Liberation Sans&quot;,sans-serif;font-weight:bold;font-size:17.5px" fill="#000">B</text><text x="373" y="194.8" text-anchor="middle" font-family="Liberation Serif" font-size="8.3" fill="#111" class="s" color="#111"><tspan font-style="italic">FKBP5</tspan> PC1</text><text x="412.3" y="144.5" font-family="Liberation Serif" font-size="7.6" fill="#111" class="s" color="#111">b = -3.72,</text><text x="411.2" y="153.6" font-family="Liberation Serif" font-size="7.6" fill="#111" class="s" color="#111"><tspan font-style="italic">p</tspan> = 0.022</text></g><g><circle cx="568.5" cy="24.2" r="2.2" fill="#1ea3e8"/><circle cx="556.3" cy="36.2" r="2.2" fill="#1ea3e8"/><circle cx="550.3" cy="50.1" r="2.2" fill="#1ea3e8"/><circle cx="551.4" cy="53.5" r="2.2" fill="#1ea3e8"/><circle cx="569.8" cy="53.9" r="2.2" fill="#1ea3e8"/><circle cx="575.5" cy="51.8" r="2.2" fill="#1ea3e8"/><circle cx="577.7" cy="46.5" r="2.2" fill="#1ea3e8"/><circle cx="580.9" cy="53.3" r="2.2" fill="#1ea3e8"/><circle cx="587.7" cy="46.0" r="2.2" fill="#1a2a9a"/><circle cx="588.4" cy="39.6" r="2.2" fill="#1ea3e8"/><circle cx="526.8" cy="58.9" r="2.2" fill="#1a2a9a"/><circle cx="533.4" cy="59.9" r="2.2" fill="#1a2a9a"/><circle cx="535.6" cy="67.8" r="2.2" fill="#1a2a9a"/><circle cx="546.3" cy="61.6" r="2.2" fill="#1ea3e8"/><circle cx="543.5" cy="70.0" r="2.2" fill="#1ea3e8"/><circle cx="552.2" cy="65.7" r="2.2" fill="#1ea3e8"/><circle cx="556.5" cy="64.8" r="2.2" fill="#1ea3e8"/><circle cx="563.4" cy="66.8" r="2.2" fill="#1a2a9a"/><circle cx="570.8" cy="66.8" r="2.2" fill="#1a2a9a"/><circle cx="574.5" cy="65.3" r="2.2" fill="#1ea3e8"/><circle cx="575.5" cy="70.0" r="2.2" fill="#1ea3e8"/><circle cx="577.0" cy="61.4" r="2.2" fill="#1ea3e8"/><circle cx="578.3" cy="58.9" r="2.2" fill="#1ea3e8"/><circle cx="583.0" cy="63.1" r="2.2" fill="#1ea3e8"/><circle cx="585.2" cy="57.6" r="2.2" fill="#1a2a9a"/><circle cx="586.9" cy="60.4" r="2.2" fill="#1a2a9a"/><circle cx="584.1" cy="65.7" r="2.2" fill="#1a2a9a"/><circle cx="588.4" cy="64.6" r="2.2" fill="#1ea3e8"/><circle cx="581.5" cy="71.7" r="2.2" fill="#1ea3e8"/><circle cx="583.0" cy="74.9" r="2.2" fill="#1ea3e8"/><circle cx="587.3" cy="72.1" r="2.2" fill="#1ea3e8"/><circle cx="574.5" cy="74.9" r="2.2" fill="#1a2a9a"/><circle cx="564.4" cy="74.9" r="2.2" fill="#1ea3e8"/><circle cx="568.1" cy="74.9" r="2.2" fill="#1ea3e8"/><circle cx="561.6" cy="79.2" r="2.2" fill="#1a2a9a"/><circle cx="570.8" cy="79.6" r="2.2" fill="#1a2a9a"/><circle cx="549.5" cy="77.4" r="2.2" fill="#1ea3e8"/><circle cx="552.0" cy="81.3" r="2.2" fill="#1ea3e8"/><circle cx="498.0" cy="79.6" r="2.2" fill="#1ea3e8"/><circle cx="529.0" cy="79.6" r="2.2" fill="#1a2a9a"/><circle cx="555.2" cy="83.4" r="2.2" fill="#1a2a9a"/><circle cx="558.4" cy="89.2" r="2.2" fill="#1ea3e8"/><circle cx="562.7" cy="85.4" r="2.2" fill="#1ea3e8"/><circle cx="565.5" cy="91.3" r="2.2" fill="#1ea3e8"/><circle cx="574.0" cy="85.4" r="2.2" fill="#1a2a9a"/><circle cx="578.7" cy="81.7" r="2.2" fill="#1ea3e8"/><circle cx="583.0" cy="77.4" r="2.2" fill="#1a2a9a"/><circle cx="584.1" cy="83.2" r="2.2" fill="#1ea3e8"/><circle cx="587.9" cy="82.4" r="2.2" fill="#1ea3e8"/><circle cx="532.8" cy="88.6" r="2.2" fill="#1a2a9a"/><circle cx="499.3" cy="91.3" r="2.2" fill="#1a2a9a"/><circle cx="522.1" cy="92.4" r="2.2" fill="#1a2a9a"/><circle cx="585.6" cy="91.3" r="2.2" fill="#1ea3e8"/><circle cx="587.7" cy="76.8" r="2.2" fill="#1a2a9a"/><circle cx="597.8" cy="17.0" r="2.2" fill="#1a2a9a"/><circle cx="595.2" cy="25.5" r="2.2" fill="#1a2a9a"/><circle cx="613.4" cy="21.5" r="2.2" fill="#1ea3e8"/><circle cx="618.5" cy="26.2" r="2.2" fill="#1ea3e8"/><circle cx="625.5" cy="26.2" r="2.2" fill="#1ea3e8"/><circle cx="605.9" cy="30.0" r="2.2" fill="#1ea3e8"/><circle cx="620.8" cy="30.0" r="2.2" fill="#1ea3e8"/><circle cx="624.0" cy="31.5" r="2.2" fill="#1ea3e8"/><circle cx="629.8" cy="32.1" r="2.2" fill="#1ea3e8"/><circle cx="634.7" cy="30.0" r="2.2" fill="#1ea3e8"/><circle cx="646.9" cy="26.8" r="2.2" fill="#1ea3e8"/><circle cx="659.7" cy="31.1" r="2.2" fill="#1ea3e8"/><circle cx="607.4" cy="34.7" r="2.2" fill="#1ea3e8"/><circle cx="590.3" cy="39.6" r="2.2" fill="#1ea3e8"/><circle cx="593.5" cy="36.4" r="2.2" fill="#1a2a9a"/><circle cx="595.0" cy="38.6" r="2.2" fill="#1ea3e8"/><circle cx="614.4" cy="36.2" r="2.2" fill="#1a2a9a"/><circle cx="620.8" cy="40.5" r="2.2" fill="#1ea3e8"/><circle cx="614.4" cy="42.2" r="2.2" fill="#1ea3e8"/><circle cx="615.9" cy="45.4" r="2.2" fill="#1ea3e8"/><circle cx="625.5" cy="43.7" r="2.2" fill="#1ea3e8"/><circle cx="637.3" cy="41.1" r="2.2" fill="#1ea3e8"/><circle cx="639.4" cy="42.6" r="2.2" fill="#1ea3e8"/><circle cx="588.6" cy="46.0" r="2.2" fill="#1a2a9a"/><circle cx="590.7" cy="48.2" r="2.2" fill="#1ea3e8"/><circle cx="597.8" cy="47.5" r="2.2" fill="#1ea3e8"/><circle cx="599.9" cy="44.8" r="2.2" fill="#1ea3e8"/><circle cx="601.0" cy="43.3" r="2.2" fill="#1ea3e8"/><circle cx="598.8" cy="46.5" r="2.2" fill="#1ea3e8"/><circle cx="618.1" cy="49.7" r="2.2" fill="#1a2a9a"/><circle cx="624.5" cy="48.6" r="2.2" fill="#1ea3e8"/><circle cx="638.4" cy="49.7" r="2.2" fill="#1a2a9a"/><circle cx="640.1" cy="47.5" r="2.2" fill="#1a2a9a"/><circle cx="647.5" cy="51.4" r="2.2" fill="#1ea3e8"/><circle cx="670.4" cy="47.5" r="2.2" fill="#1a2a9a"/><circle cx="673.6" cy="46.0" r="2.2" fill="#1ea3e8"/><circle cx="681.1" cy="51.2" r="2.2" fill="#1a2a9a"/><circle cx="602.0" cy="54.6" r="2.2" fill="#1ea3e8"/><circle cx="609.1" cy="54.6" r="2.2" fill="#1ea3e8"/><circle cx="624.0" cy="53.5" r="2.2" fill="#1a2a9a"/><circle cx="620.8" cy="57.6" r="2.2" fill="#1ea3e8"/><circle cx="619.1" cy="59.3" r="2.2" fill="#1ea3e8"/><circle cx="629.8" cy="57.1" r="2.2" fill="#1ea3e8"/><circle cx="636.2" cy="54.6" r="2.2" fill="#1ea3e8"/><circle cx="639.4" cy="59.3" r="2.2" fill="#1a2a9a"/><circle cx="638.4" cy="61.4" r="2.2" fill="#1ea3e8"/><circle cx="644.8" cy="59.7" r="2.2" fill="#1ea3e8"/><circle cx="596.3" cy="58.2" r="2.2" fill="#1a2a9a"/><circle cx="594.5" cy="61.4" r="2.2" fill="#1ea3e8"/><circle cx="593.5" cy="64.0" r="2.2" fill="#1ea3e8"/><circle cx="588.1" cy="61.0" r="2.2" fill="#1a2a9a"/><circle cx="609.9" cy="59.7" r="2.2" fill="#1ea3e8"/><circle cx="609.1" cy="64.0" r="2.2" fill="#1a2a9a"/><circle cx="614.8" cy="61.8" r="2.2" fill="#1a2a9a"/><circle cx="618.5" cy="64.0" r="2.2" fill="#1a2a9a"/><circle cx="603.5" cy="64.0" r="2.2" fill="#1a2a9a"/><circle cx="599.9" cy="65.7" r="2.2" fill="#1ea3e8"/><circle cx="598.8" cy="68.9" r="2.2" fill="#1a2a9a"/><circle cx="596.7" cy="68.9" r="2.2" fill="#1a2a9a"/><circle cx="601.0" cy="71.0" r="2.2" fill="#1a2a9a"/><circle cx="589.8" cy="70.6" r="2.2" fill="#1ea3e8"/><circle cx="588.6" cy="75.9" r="2.2" fill="#1ea3e8"/><circle cx="615.9" cy="65.7" r="2.2" fill="#1ea3e8"/><circle cx="617.6" cy="68.5" r="2.2" fill="#1ea3e8"/><circle cx="617.0" cy="71.7" r="2.2" fill="#1ea3e8"/><circle cx="626.6" cy="65.7" r="2.2" fill="#1ea3e8"/><circle cx="631.9" cy="68.5" r="2.2" fill="#1ea3e8"/><circle cx="629.8" cy="72.1" r="2.2" fill="#1a2a9a"/><circle cx="635.1" cy="71.0" r="2.2" fill="#1ea3e8"/><circle cx="637.3" cy="64.6" r="2.2" fill="#1ea3e8"/><circle cx="640.5" cy="64.6" r="2.2" fill="#1ea3e8"/><circle cx="640.5" cy="68.9" r="2.2" fill="#1ea3e8"/><circle cx="611.6" cy="74.2" r="2.2" fill="#1ea3e8"/><circle cx="607.4" cy="78.9" r="2.2" fill="#1a2a9a"/><circle cx="602.7" cy="75.9" r="2.2" fill="#1a2a9a"/><circle cx="599.2" cy="76.8" r="2.2" fill="#1ea3e8"/><circle cx="597.8" cy="79.6" r="2.2" fill="#1ea3e8"/><circle cx="602.7" cy="80.6" r="2.2" fill="#1ea3e8"/><circle cx="594.5" cy="76.4" r="2.2" fill="#1a2a9a"/><circle cx="591.3" cy="76.8" r="2.2" fill="#1ea3e8"/><circle cx="589.2" cy="77.4" r="2.2" fill="#1a2a9a"/><circle cx="656.1" cy="70.4" r="2.2" fill="#1a2a9a"/><circle cx="661.2" cy="70.4" r="2.2" fill="#1a2a9a"/><circle cx="644.8" cy="76.4" r="2.2" fill="#1a2a9a"/><circle cx="646.3" cy="74.2" r="2.2" fill="#1ea3e8"/><circle cx="654.4" cy="78.9" r="2.2" fill="#1ea3e8"/><circle cx="674.7" cy="78.1" r="2.2" fill="#1ea3e8"/><circle cx="615.9" cy="79.6" r="2.2" fill="#1ea3e8"/><circle cx="618.5" cy="79.6" r="2.2" fill="#1ea3e8"/><circle cx="643.7" cy="81.1" r="2.2" fill="#1ea3e8"/><circle cx="648.0" cy="83.2" r="2.2" fill="#1ea3e8"/><circle cx="629.8" cy="83.9" r="2.2" fill="#1ea3e8"/><circle cx="636.2" cy="81.7" r="2.2" fill="#1ea3e8"/><circle cx="638.4" cy="84.9" r="2.2" fill="#1ea3e8"/><circle cx="592.0" cy="84.9" r="2.2" fill="#1a2a9a"/><circle cx="589.8" cy="87.5" r="2.2" fill="#1ea3e8"/><circle cx="595.6" cy="83.2" r="2.2" fill="#1ea3e8"/><circle cx="601.0" cy="88.8" r="2.2" fill="#1ea3e8"/><circle cx="603.1" cy="88.1" r="2.2" fill="#1ea3e8"/><circle cx="607.4" cy="87.5" r="2.2" fill="#1ea3e8"/><circle cx="610.6" cy="87.5" r="2.2" fill="#1ea3e8"/><circle cx="587.7" cy="90.3" r="2.2" fill="#1ea3e8"/><circle cx="594.1" cy="91.3" r="2.2" fill="#1ea3e8"/><circle cx="656.5" cy="90.5" r="2.2" fill="#1ea3e8"/><circle cx="630.9" cy="89.6" r="2.2" fill="#1ea3e8"/><circle cx="626.6" cy="91.3" r="2.2" fill="#1ea3e8"/><circle cx="598.8" cy="82.8" r="2.2" fill="#1ea3e8"/><circle cx="570.2" cy="95.2" r="2.2" fill="#1ea3e8"/><circle cx="541.8" cy="103.1" r="2.2" fill="#1a2a9a"/><circle cx="545.6" cy="109.7" r="2.2" fill="#1a2a9a"/><circle cx="557.8" cy="107.6" r="2.2" fill="#1a2a9a"/><circle cx="557.8" cy="109.7" r="2.2" fill="#1ea3e8"/><circle cx="562.3" cy="106.5" r="2.2" fill="#1ea3e8"/><circle cx="569.8" cy="108.0" r="2.2" fill="#1ea3e8"/><circle cx="574.9" cy="107.0" r="2.2" fill="#1ea3e8"/><circle cx="577.7" cy="103.1" r="2.2" fill="#1ea3e8"/><circle cx="579.8" cy="101.6" r="2.2" fill="#1ea3e8"/><circle cx="584.1" cy="98.4" r="2.2" fill="#1a2a9a"/><circle cx="587.3" cy="100.1" r="2.2" fill="#1ea3e8"/><circle cx="587.7" cy="108.0" r="2.2" fill="#1ea3e8"/><circle cx="588.4" cy="110.8" r="2.2" fill="#1a2a9a"/><circle cx="574.0" cy="111.9" r="2.2" fill="#1a2a9a"/><circle cx="581.3" cy="111.7" r="2.2" fill="#1a2a9a"/><circle cx="584.7" cy="114.4" r="2.2" fill="#1ea3e8"/><circle cx="572.3" cy="115.9" r="2.2" fill="#1ea3e8"/><circle cx="577.0" cy="118.7" r="2.2" fill="#1a2a9a"/><circle cx="577.7" cy="121.9" r="2.2" fill="#1a2a9a"/><circle cx="586.9" cy="118.1" r="2.2" fill="#1a2a9a"/><circle cx="586.2" cy="121.5" r="2.2" fill="#1ea3e8"/><circle cx="515.7" cy="115.9" r="2.2" fill="#1ea3e8"/><circle cx="534.9" cy="115.1" r="2.2" fill="#1ea3e8"/><circle cx="548.8" cy="117.6" r="2.2" fill="#1ea3e8"/><circle cx="551.6" cy="119.4" r="2.2" fill="#1a2a9a"/><circle cx="553.1" cy="119.4" r="2.2" fill="#1a2a9a"/><circle cx="555.2" cy="114.9" r="2.2" fill="#1ea3e8"/><circle cx="531.1" cy="132.2" r="2.2" fill="#1ea3e8"/><circle cx="557.8" cy="129.4" r="2.2" fill="#1a2a9a"/><circle cx="559.9" cy="132.6" r="2.2" fill="#1a2a9a"/><circle cx="571.3" cy="134.7" r="2.2" fill="#1a2a9a"/><circle cx="561.2" cy="156.7" r="2.2" fill="#1a2a9a"/><circle cx="587.7" cy="171.1" r="2.2" fill="#1a2a9a"/><circle cx="596.7" cy="94.1" r="2.2" fill="#1ea3e8"/><circle cx="603.5" cy="93.7" r="2.2" fill="#1ea3e8"/><circle cx="612.7" cy="95.8" r="2.2" fill="#1ea3e8"/><circle cx="619.1" cy="96.7" r="2.2" fill="#1a2a9a"/><circle cx="640.5" cy="97.3" r="2.2" fill="#1a2a9a"/><circle cx="667.6" cy="98.8" r="2.2" fill="#1ea3e8"/><circle cx="673.6" cy="102.3" r="2.2" fill="#1ea3e8"/><circle cx="592.0" cy="100.5" r="2.2" fill="#1ea3e8"/><circle cx="595.0" cy="98.8" r="2.2" fill="#1a2a9a"/><circle cx="597.8" cy="96.7" r="2.2" fill="#1a2a9a"/><circle cx="599.2" cy="95.8" r="2.2" fill="#1ea3e8"/><circle cx="602.7" cy="103.8" r="2.2" fill="#1ea3e8"/><circle cx="606.3" cy="104.8" r="2.2" fill="#1a2a9a"/><circle cx="610.6" cy="99.5" r="2.2" fill="#1ea3e8"/><circle cx="615.9" cy="103.1" r="2.2" fill="#1ea3e8"/><circle cx="626.6" cy="101.0" r="2.2" fill="#1a2a9a"/><circle cx="629.8" cy="100.5" r="2.2" fill="#1a2a9a"/><circle cx="633.4" cy="101.0" r="2.2" fill="#1ea3e8"/><circle cx="627.2" cy="105.9" r="2.2" fill="#1a2a9a"/><circle cx="626.6" cy="108.7" r="2.2" fill="#1ea3e8"/><circle cx="621.3" cy="108.0" r="2.2" fill="#1ea3e8"/><circle cx="619.8" cy="110.8" r="2.2" fill="#1ea3e8"/><circle cx="603.5" cy="108.0" r="2.2" fill="#1a2a9a"/><circle cx="603.1" cy="110.8" r="2.2" fill="#1ea3e8"/><circle cx="594.1" cy="105.9" r="2.2" fill="#1ea3e8"/><circle cx="588.1" cy="107.4" r="2.2" fill="#1ea3e8"/><circle cx="589.2" cy="110.2" r="2.2" fill="#1a2a9a"/><circle cx="609.9" cy="113.4" r="2.2" fill="#1a2a9a"/><circle cx="614.4" cy="113.4" r="2.2" fill="#1a2a9a"/><circle cx="616.6" cy="118.3" r="2.2" fill="#1a2a9a"/><circle cx="605.7" cy="119.8" r="2.2" fill="#1a2a9a"/><circle cx="592.0" cy="118.3" r="2.2" fill="#1ea3e8"/><circle cx="638.4" cy="109.7" r="2.2" fill="#1ea3e8"/><circle cx="635.8" cy="112.7" r="2.2" fill="#1a2a9a"/><circle cx="611.6" cy="143.9" r="2.2" fill="#1a2a9a"/><circle cx="595.0" cy="148.0" r="2.2" fill="#1ea3e8"/><circle cx="595.0" cy="150.3" r="2.2" fill="#1a2a9a"/><path d="M498.0,89.4 L502.6,88.8 L507.1,88.2 L511.7,87.6 L516.3,87.0 L520.9,86.5 L525.5,85.9 L530.0,85.3 L534.6,84.7 L539.2,84.1 L543.8,83.4 L548.3,82.8 L552.9,82.2 L557.5,81.5 L562.0,80.8 L566.6,80.2 L571.2,79.4 L575.8,78.7 L580.4,77.9 L584.9,77.1 L589.5,76.3 L594.1,75.4 L598.6,74.4 L603.2,73.4 L607.8,72.3 L612.4,71.3 L617.0,70.1 L621.5,68.9 L626.1,67.7 L630.7,66.5 L635.2,65.2 L639.8,63.9 L644.4,62.7 L649.0,61.3 L653.5,60.0 L658.1,58.7 L662.7,57.4 L667.3,56.0 L671.9,54.7 L676.4,53.3 L681.0,51.9 L681.0,69.1 L676.4,69.6 L671.9,70.2 L667.3,70.8 L662.7,71.4 L658.1,72.0 L653.5,72.6 L649.0,73.3 L644.4,73.9 L639.8,74.6 L635.2,75.2 L630.7,75.9 L626.1,76.6 L621.5,77.4 L617.0,78.1 L612.4,78.9 L607.8,79.8 L603.2,80.7 L598.6,81.6 L594.1,82.6 L589.5,83.6 L584.9,84.7 L580.4,85.9 L575.8,87.0 L571.2,88.2 L566.6,89.5 L562.0,90.7 L557.5,92.0 L552.9,93.3 L548.3,94.6 L543.8,95.9 L539.2,97.2 L534.6,98.6 L530.0,99.9 L525.5,101.3 L520.9,102.6 L516.3,104.0 L511.7,105.3 L507.1,106.7 L502.6,108.1 L498.0,109.5 Z" fill="#999" fill-opacity="0.37"/><line x1="498" y1="99.4" x2="681" y2="60.5" stroke="#1a1a1a" stroke-width="0.95"/><path d="M488.6,9.5 V179.5 H690.4" fill="none" stroke="#4a4a4a" stroke-width="1"/><line x1="542.2" y1="179.5" x2="542.2" y2="181.7" stroke="#777" stroke-width="0.8"/><text x="542.2" y="186.4" text-anchor="middle" font-family="Liberation Serif" font-size="7" fill="#5a5a5a" class="t" color="#5a5a5a">-0.25</text><line x1="597.6" y1="179.5" x2="597.6" y2="181.7" stroke="#777" stroke-width="0.8"/><text x="597.6" y="186.4" text-anchor="middle" font-family="Liberation Serif" font-size="7" fill="#5a5a5a" class="t" color="#5a5a5a">0.00</text><line x1="652.7" y1="179.5" x2="652.7" y2="181.7" stroke="#777" stroke-width="0.8"/><text x="652.7" y="186.4" text-anchor="middle" font-family="Liberation Serif" font-size="7" fill="#5a5a5a" class="t" color="#5a5a5a">0.25</text><line x1="486.40000000000003" y1="38" x2="488.6" y2="38" stroke="#777" stroke-width="0.8"/><text x="485.90000000000003" y="40.4" text-anchor="end" font-family="Liberation Serif" font-size="7" fill="#5a5a5a" class="t" color="#5a5a5a">5</text><line x1="486.40000000000003" y1="78.6" x2="488.6" y2="78.6" stroke="#777" stroke-width="0.8"/><text x="485.90000000000003" y="81.0" text-anchor="end" font-family="Liberation Serif" font-size="7" fill="#5a5a5a" class="t" color="#5a5a5a">0</text><line x1="486.40000000000003" y1="119" x2="488.6" y2="119" stroke="#777" stroke-width="0.8"/><text x="485.90000000000003" y="121.4" text-anchor="end" font-family="Liberation Serif" font-size="7" fill="#5a5a5a" class="t" color="#5a5a5a">-5</text><line x1="486.40000000000003" y1="159.3" x2="488.6" y2="159.3" stroke="#777" stroke-width="0.8"/><text x="485.90000000000003" y="161.70000000000002" text-anchor="end" font-family="Liberation Serif" font-size="7" fill="#5a5a5a" class="t" color="#5a5a5a">-10</text><text x="471.4" y="15.5" style="font-family:&quot;Liberation Sans&quot;,sans-serif;font-weight:bold;font-size:17.5px" fill="#000">C</text><text x="589.8" y="194.8" text-anchor="middle" font-family="Liberation Serif" font-size="8.3" fill="#111" class="s" color="#111"><tspan font-style="italic">SLC6A4</tspan> PC1</text><text x="636.8" y="144.5" font-family="Liberation Serif" font-size="7.6" fill="#111" class="s" color="#111">b = 5.98,</text><text x="635.7" y="153.6" font-family="Liberation Serif" font-size="7.6" fill="#111" class="s" color="#111"><tspan font-style="italic">p</tspan> &lt; 0.001</text></g><g><circle cx="61.5" cy="225.4" r="2.2" fill="#1ea3e8"/><circle cx="92.9" cy="227.5" r="2.2" fill="#1ea3e8"/><circle cx="104.2" cy="228.8" r="2.2" fill="#1ea3e8"/><circle cx="107.0" cy="227.1" r="2.2" fill="#1ea3e8"/><circle cx="130.9" cy="227.1" r="2.2" fill="#1ea3e8"/><circle cx="134.6" cy="224.5" r="2.2" fill="#1ea3e8"/><circle cx="123.7" cy="230.3" r="2.2" fill="#1ea3e8"/><circle cx="138.4" cy="230.5" r="2.2" fill="#1ea3e8"/><circle cx="147.6" cy="231.8" r="2.2" fill="#1ea3e8"/><circle cx="120.9" cy="235.2" r="2.2" fill="#1ea3e8"/><circle cx="116.0" cy="239.5" r="2.2" fill="#1ea3e8"/><circle cx="84.6" cy="242.1" r="2.2" fill="#1ea3e8"/><circle cx="89.3" cy="245.3" r="2.2" fill="#1ea3e8"/><circle cx="101.0" cy="244.2" r="2.2" fill="#1ea3e8"/><circle cx="105.9" cy="243.8" r="2.2" fill="#1ea3e8"/><circle cx="109.1" cy="242.1" r="2.2" fill="#1ea3e8"/><circle cx="113.4" cy="243.8" r="2.2" fill="#1ea3e8"/><circle cx="120.7" cy="243.1" r="2.2" fill="#1ea3e8"/><circle cx="124.5" cy="242.1" r="2.2" fill="#1ea3e8"/><circle cx="126.6" cy="243.8" r="2.2" fill="#1ea3e8"/><circle cx="124.5" cy="245.9" r="2.2" fill="#1ea3e8"/><circle cx="116.4" cy="248.5" r="2.2" fill="#1ea3e8"/><circle cx="114.9" cy="250.6" r="2.2" fill="#1ea3e8"/><circle cx="125.6" cy="249.5" r="2.2" fill="#1ea3e8"/><circle cx="135.2" cy="249.5" r="2.2" fill="#1ea3e8"/><circle cx="138.4" cy="247.4" r="2.2" fill="#1ea3e8"/><circle cx="140.5" cy="249.5" r="2.2" fill="#1ea3e8"/><circle cx="141.6" cy="251.7" r="2.2" fill="#1ea3e8"/><circle cx="145.5" cy="246.8" r="2.2" fill="#1ea3e8"/><circle cx="151.9" cy="248.5" r="2.2" fill="#1ea3e8"/><circle cx="91.4" cy="249.5" r="2.2" fill="#1ea3e8"/><circle cx="93.5" cy="251.0" r="2.2" fill="#1ea3e8"/><circle cx="92.0" cy="248.5" r="2.2" fill="#1ea3e8"/><circle cx="83.9" cy="255.3" r="2.2" fill="#1ea3e8"/><circle cx="97.8" cy="254.9" r="2.2" fill="#1ea3e8"/><circle cx="98.9" cy="257.0" r="2.2" fill="#1ea3e8"/><circle cx="102.1" cy="252.7" r="2.2" fill="#1ea3e8"/><circle cx="104.2" cy="251.7" r="2.2" fill="#1ea3e8"/><circle cx="107.4" cy="254.4" r="2.2" fill="#1ea3e8"/><circle cx="111.7" cy="253.8" r="2.2" fill="#1ea3e8"/><circle cx="118.1" cy="256.6" r="2.2" fill="#1ea3e8"/><circle cx="121.9" cy="257.4" r="2.2" fill="#1ea3e8"/><circle cx="127.7" cy="255.9" r="2.2" fill="#1ea3e8"/><circle cx="122.8" cy="260.9" r="2.2" fill="#1ea3e8"/><circle cx="127.1" cy="259.1" r="2.2" fill="#1ea3e8"/><circle cx="129.9" cy="261.3" r="2.2" fill="#1ea3e8"/><circle cx="136.3" cy="259.1" r="2.2" fill="#1ea3e8"/><circle cx="140.5" cy="254.9" r="2.2" fill="#1ea3e8"/><circle cx="141.6" cy="260.2" r="2.2" fill="#1ea3e8"/><circle cx="145.9" cy="255.9" r="2.2" fill="#1ea3e8"/><circle cx="148.0" cy="259.1" r="2.2" fill="#1ea3e8"/><circle cx="144.8" cy="262.4" r="2.2" fill="#1ea3e8"/><circle cx="149.1" cy="265.1" r="2.2" fill="#1ea3e8"/><circle cx="152.7" cy="267.7" r="2.2" fill="#1ea3e8"/><circle cx="92.5" cy="260.2" r="2.2" fill="#1ea3e8"/><circle cx="104.9" cy="260.2" r="2.2" fill="#1ea3e8"/><circle cx="107.0" cy="258.1" r="2.2" fill="#1ea3e8"/><circle cx="109.1" cy="257.4" r="2.2" fill="#1ea3e8"/><circle cx="104.2" cy="263.0" r="2.2" fill="#1ea3e8"/><circle cx="113.4" cy="264.9" r="2.2" fill="#1ea3e8"/><circle cx="126.6" cy="264.5" r="2.2" fill="#1ea3e8"/><circle cx="114.3" cy="270.3" r="2.2" fill="#1ea3e8"/><circle cx="83.9" cy="273.7" r="2.2" fill="#1ea3e8"/><circle cx="109.1" cy="275.2" r="2.2" fill="#1ea3e8"/><circle cx="97.8" cy="278.8" r="2.2" fill="#1ea3e8"/><circle cx="105.3" cy="280.5" r="2.2" fill="#1ea3e8"/><circle cx="113.8" cy="279.9" r="2.2" fill="#1ea3e8"/><circle cx="118.1" cy="281.6" r="2.2" fill="#1ea3e8"/><circle cx="120.2" cy="278.8" r="2.2" fill="#1ea3e8"/><circle cx="122.4" cy="280.5" r="2.2" fill="#1ea3e8"/><circle cx="119.2" cy="283.1" r="2.2" fill="#1ea3e8"/><circle cx="130.9" cy="277.9" r="2.2" fill="#1ea3e8"/><circle cx="134.8" cy="279.9" r="2.2" fill="#1ea3e8"/><circle cx="142.7" cy="277.3" r="2.2" fill="#1ea3e8"/><circle cx="143.7" cy="280.5" r="2.2" fill="#1ea3e8"/><circle cx="128.8" cy="288.0" r="2.2" fill="#1ea3e8"/><circle cx="130.9" cy="286.3" r="2.2" fill="#1ea3e8"/><circle cx="77.5" cy="289.1" r="2.2" fill="#1ea3e8"/><circle cx="147.4" cy="289.1" r="2.2" fill="#1a2a9a"/><circle cx="182.1" cy="226.0" r="2.2" fill="#1ea3e8"/><circle cx="163.9" cy="230.7" r="2.2" fill="#1ea3e8"/><circle cx="179.9" cy="238.2" r="2.2" fill="#1a2a9a"/><circle cx="166.0" cy="242.5" r="2.2" fill="#1ea3e8"/><circle cx="168.8" cy="241.6" r="2.2" fill="#1ea3e8"/><circle cx="176.7" cy="248.9" r="2.2" fill="#1ea3e8"/><circle cx="193.2" cy="247.0" r="2.2" fill="#1ea3e8"/><circle cx="158.5" cy="253.8" r="2.2" fill="#1ea3e8"/><circle cx="163.9" cy="254.4" r="2.2" fill="#1ea3e8"/><circle cx="166.7" cy="258.1" r="2.2" fill="#1ea3e8"/><circle cx="181.0" cy="253.8" r="2.2" fill="#1ea3e8"/><circle cx="173.9" cy="260.2" r="2.2" fill="#1ea3e8"/><circle cx="183.1" cy="260.9" r="2.2" fill="#1ea3e8"/><circle cx="191.7" cy="257.0" r="2.2" fill="#1ea3e8"/><circle cx="161.1" cy="260.9" r="2.2" fill="#1a2a9a"/><circle cx="178.8" cy="263.0" r="2.2" fill="#1ea3e8"/><circle cx="181.0" cy="265.6" r="2.2" fill="#1a2a9a"/><circle cx="187.8" cy="261.3" r="2.2" fill="#1a2a9a"/><circle cx="162.8" cy="266.6" r="2.2" fill="#1ea3e8"/><circle cx="166.0" cy="267.7" r="2.2" fill="#1ea3e8"/><circle cx="168.8" cy="267.3" r="2.2" fill="#1ea3e8"/><circle cx="170.3" cy="267.3" r="2.2" fill="#1ea3e8"/><circle cx="174.6" cy="270.9" r="2.2" fill="#1a2a9a"/><circle cx="168.2" cy="275.2" r="2.2" fill="#1a2a9a"/><circle cx="178.2" cy="275.2" r="2.2" fill="#1a2a9a"/><circle cx="181.0" cy="277.9" r="2.2" fill="#1a2a9a"/><circle cx="172.4" cy="278.8" r="2.2" fill="#1ea3e8"/><circle cx="176.7" cy="280.1" r="2.2" fill="#1ea3e8"/><circle cx="173.1" cy="283.7" r="2.2" fill="#1ea3e8"/><circle cx="157.9" cy="278.4" r="2.2" fill="#1a2a9a"/><circle cx="184.2" cy="285.2" r="2.2" fill="#1ea3e8"/><circle cx="181.0" cy="287.4" r="2.2" fill="#1a2a9a"/><circle cx="197.0" cy="274.1" r="2.2" fill="#1ea3e8"/><circle cx="205.1" cy="269.4" r="2.2" fill="#1ea3e8"/><circle cx="208.3" cy="266.0" r="2.2" fill="#1ea3e8"/><circle cx="205.1" cy="276.9" r="2.2" fill="#1ea3e8"/><circle cx="198.1" cy="278.4" r="2.2" fill="#1a2a9a"/><circle cx="192.7" cy="280.5" r="2.2" fill="#1a2a9a"/><circle cx="200.9" cy="284.8" r="2.2" fill="#1a2a9a"/><circle cx="207.3" cy="280.5" r="2.2" fill="#1a2a9a"/><circle cx="210.5" cy="283.1" r="2.2" fill="#1a2a9a"/><circle cx="212.0" cy="277.3" r="2.2" fill="#1a2a9a"/><circle cx="215.2" cy="276.9" r="2.2" fill="#1a2a9a"/><circle cx="217.3" cy="279.4" r="2.2" fill="#1a2a9a"/><circle cx="213.0" cy="285.9" r="2.2" fill="#1a2a9a"/><circle cx="231.8" cy="270.5" r="2.2" fill="#1a2a9a"/><circle cx="160.3" cy="288.6" r="2.2" fill="#1ea3e8"/><circle cx="162.8" cy="290.1" r="2.2" fill="#1a2a9a"/><circle cx="166.7" cy="291.6" r="2.2" fill="#1ea3e8"/><circle cx="169.9" cy="290.8" r="2.2" fill="#1a2a9a"/><circle cx="202.4" cy="292.3" r="2.2" fill="#1a2a9a"/><circle cx="188.0" cy="294.0" r="2.2" fill="#1ea3e8"/><circle cx="97.8" cy="299.4" r="2.2" fill="#1a2a9a"/><circle cx="163.9" cy="301.1" r="2.2" fill="#1a2a9a"/><circle cx="182.7" cy="302.6" r="2.2" fill="#1a2a9a"/><circle cx="193.4" cy="303.7" r="2.2" fill="#1a2a9a"/><circle cx="190.0" cy="311.6" r="2.2" fill="#1a2a9a"/><circle cx="218.8" cy="298.8" r="2.2" fill="#1a2a9a"/><circle cx="223.7" cy="297.7" r="2.2" fill="#1a2a9a"/><circle cx="226.9" cy="302.6" r="2.2" fill="#1a2a9a"/><circle cx="230.1" cy="302.6" r="2.2" fill="#1a2a9a"/><circle cx="236.5" cy="302.2" r="2.2" fill="#1a2a9a"/><circle cx="238.0" cy="319.1" r="2.2" fill="#1a2a9a"/><circle cx="240.8" cy="320.8" r="2.2" fill="#1a2a9a"/><circle cx="239.7" cy="324.0" r="2.2" fill="#1a2a9a"/><circle cx="247.2" cy="321.8" r="2.2" fill="#1a2a9a"/><circle cx="211.5" cy="325.1" r="2.2" fill="#1a2a9a"/><circle cx="219.9" cy="322.9" r="2.2" fill="#1a2a9a"/><circle cx="194.4" cy="329.3" r="2.2" fill="#1a2a9a"/><circle cx="216.7" cy="332.5" r="2.2" fill="#1a2a9a"/><circle cx="235.0" cy="327.6" r="2.2" fill="#1a2a9a"/><circle cx="238.7" cy="328.9" r="2.2" fill="#1a2a9a"/><circle cx="243.4" cy="328.9" r="2.2" fill="#1a2a9a"/><circle cx="244.0" cy="331.5" r="2.2" fill="#1a2a9a"/><circle cx="246.6" cy="332.1" r="2.2" fill="#1a2a9a"/><circle cx="247.2" cy="335.3" r="2.2" fill="#1a2a9a"/><circle cx="239.7" cy="333.6" r="2.2" fill="#1a2a9a"/><circle cx="238.0" cy="334.7" r="2.2" fill="#1a2a9a"/><circle cx="236.5" cy="335.7" r="2.2" fill="#1a2a9a"/><circle cx="241.9" cy="336.2" r="2.2" fill="#1a2a9a"/><circle cx="228.0" cy="335.7" r="2.2" fill="#1a2a9a"/><circle cx="231.6" cy="338.5" r="2.2" fill="#1a2a9a"/><circle cx="233.3" cy="341.1" r="2.2" fill="#1a2a9a"/><circle cx="234.4" cy="343.2" r="2.2" fill="#1a2a9a"/><circle cx="225.9" cy="352.8" r="2.2" fill="#1a2a9a"/><circle cx="235.5" cy="352.8" r="2.2" fill="#1a2a9a"/><circle cx="245.1" cy="364.2" r="2.2" fill="#1a2a9a"/><circle cx="230.6" cy="372.7" r="2.2" fill="#1a2a9a"/><path d="M61.5,218.6 L66.1,221.2 L70.7,223.8 L75.4,226.4 L80.0,228.9 L84.6,231.5 L89.2,234.1 L93.8,236.7 L98.4,239.2 L103.1,241.8 L107.7,244.4 L112.3,246.9 L116.9,249.4 L121.5,252.0 L126.1,254.5 L130.8,257.0 L135.4,259.5 L140.0,262.0 L144.6,264.4 L149.2,266.9 L153.8,269.2 L158.5,271.6 L163.1,273.9 L167.7,276.2 L172.3,278.4 L176.9,280.6 L181.6,282.8 L186.2,284.9 L190.8,287.0 L195.4,289.1 L200.0,291.2 L204.6,293.3 L209.3,295.3 L213.9,297.4 L218.5,299.4 L223.1,301.5 L227.7,303.5 L232.3,305.5 L237.0,307.6 L241.6,309.6 L246.2,311.6 L246.2,323.6 L241.6,321.0 L237.0,318.4 L232.3,315.9 L227.7,313.3 L223.1,310.7 L218.5,308.2 L213.9,305.6 L209.3,303.1 L204.6,300.5 L200.0,298.0 L195.4,295.5 L190.8,293.0 L186.2,290.5 L181.6,288.0 L176.9,285.6 L172.3,283.2 L167.7,280.8 L163.1,278.5 L158.5,276.2 L153.8,274.0 L149.2,271.7 L144.6,269.6 L140.0,267.4 L135.4,265.3 L130.8,263.2 L126.1,261.1 L121.5,259.0 L116.9,257.0 L112.3,254.9 L107.7,252.8 L103.1,250.8 L98.4,248.8 L93.8,246.7 L89.2,244.7 L84.6,242.7 L80.0,240.7 L75.4,238.6 L70.7,236.6 L66.1,234.6 L61.5,232.6 Z" fill="#999" fill-opacity="0.37"/><line x1="61.5" y1="225.6" x2="246.2" y2="317.6" stroke="#1a1a1a" stroke-width="0.95"/><path d="M52.7,211 V380.4 H256" fill="none" stroke="#4a4a4a" stroke-width="1"/><line x1="65.2" y1="380.4" x2="65.2" y2="382.59999999999997" stroke="#777" stroke-width="0.8"/><text x="65.2" y="387.59999999999997" text-anchor="middle" font-family="Liberation Serif" font-size="7" fill="#5a5a5a" class="t" color="#5a5a5a">-2</text><line x1="114.9" y1="380.4" x2="114.9" y2="382.59999999999997" stroke="#777" stroke-width="0.8"/><text x="114.9" y="387.59999999999997" text-anchor="middle" font-family="Liberation Serif" font-size="7" fill="#5a5a5a" class="t" color="#5a5a5a">-1</text><line x1="164.6" y1="380.4" x2="164.6" y2="382.59999999999997" stroke="#777" stroke-width="0.8"/><text x="164.6" y="387.59999999999997" text-anchor="middle" font-family="Liberation Serif" font-size="7" fill="#5a5a5a" class="t" color="#5a5a5a">0</text><line x1="214.3" y1="380.4" x2="214.3" y2="382.59999999999997" stroke="#777" stroke-width="0.8"/><text x="214.3" y="387.59999999999997" text-anchor="middle" font-family="Liberation Serif" font-size="7" fill="#5a5a5a" class="t" color="#5a5a5a">1</text><line x1="50.5" y1="215" x2="52.7" y2="215" stroke="#777" stroke-width="0.8"/><text x="50.0" y="217.4" text-anchor="end" font-family="Liberation Serif" font-size="7" fill="#5a5a5a" class="t" color="#5a5a5a">35</text><line x1="50.5" y1="243.2" x2="52.7" y2="243.2" stroke="#777" stroke-width="0.8"/><text x="50.0" y="245.6" text-anchor="end" font-family="Liberation Serif" font-size="7" fill="#5a5a5a" class="t" color="#5a5a5a">30</text><line x1="50.5" y1="272" x2="52.7" y2="272" stroke="#777" stroke-width="0.8"/><text x="50.0" y="274.4" text-anchor="end" font-family="Liberation Serif" font-size="7" fill="#5a5a5a" class="t" color="#5a5a5a">25</text><line x1="50.5" y1="300.3" x2="52.7" y2="300.3" stroke="#777" stroke-width="0.8"/><text x="50.0" y="302.7" text-anchor="end" font-family="Liberation Serif" font-size="7" fill="#5a5a5a" class="t" color="#5a5a5a">20</text><line x1="50.5" y1="329.2" x2="52.7" y2="329.2" stroke="#777" stroke-width="0.8"/><text x="50.0" y="331.59999999999997" text-anchor="end" font-family="Liberation Serif" font-size="7" fill="#5a5a5a" class="t" color="#5a5a5a">15</text><line x1="50.5" y1="358" x2="52.7" y2="358" stroke="#777" stroke-width="0.8"/><text x="50.0" y="360.4" text-anchor="end" font-family="Liberation Serif" font-size="7" fill="#5a5a5a" class="t" color="#5a5a5a">10</text><text x="18.5" y="216.8" style="font-family:&quot;Liberation Sans&quot;,sans-serif;font-weight:bold;font-size:17.5px" fill="#000">D</text><text x="153.5" y="396.0" text-anchor="middle" font-family="Liberation Serif" font-size="8.3" fill="#111" class="s" color="#111"><tspan font-style="italic">NR3C1</tspan> PC1</text><text x="75.1" y="342.8" font-family="Liberation Serif" font-size="7.6" fill="#111" class="s" color="#111">b = -4.34,</text><text x="74.0" y="351.90000000000003" font-family="Liberation Serif" font-size="7.6" fill="#111" class="s" color="#111"><tspan font-style="italic">p</tspan> &lt; 0.001</text></g><g><circle cx="280.1" cy="227.1" r="2.2" fill="#1ea3e8"/><circle cx="327.6" cy="229.9" r="2.2" fill="#1ea3e8"/><circle cx="331.4" cy="228.8" r="2.2" fill="#1ea3e8"/><circle cx="334.0" cy="230.3" r="2.2" fill="#1ea3e8"/><circle cx="336.7" cy="231.8" r="2.2" fill="#1ea3e8"/><circle cx="358.5" cy="226.0" r="2.2" fill="#1ea3e8"/><circle cx="362.2" cy="228.8" r="2.2" fill="#1ea3e8"/><circle cx="367.7" cy="232.0" r="2.2" fill="#1ea3e8"/><circle cx="356.4" cy="233.9" r="2.2" fill="#1ea3e8"/><circle cx="352.6" cy="236.7" r="2.2" fill="#1ea3e8"/><circle cx="299.8" cy="243.8" r="2.2" fill="#1ea3e8"/><circle cx="305.8" cy="247.0" r="2.2" fill="#1ea3e8"/><circle cx="308.3" cy="246.3" r="2.2" fill="#1ea3e8"/><circle cx="310.0" cy="244.2" r="2.2" fill="#1ea3e8"/><circle cx="309.4" cy="250.6" r="2.2" fill="#1ea3e8"/><circle cx="296.6" cy="252.3" r="2.2" fill="#1ea3e8"/><circle cx="290.2" cy="256.6" r="2.2" fill="#1ea3e8"/><circle cx="325.0" cy="244.8" r="2.2" fill="#1ea3e8"/><circle cx="332.3" cy="244.6" r="2.2" fill="#1ea3e8"/><circle cx="339.9" cy="245.9" r="2.2" fill="#1ea3e8"/><circle cx="342.1" cy="243.8" r="2.2" fill="#1ea3e8"/><circle cx="345.1" cy="241.4" r="2.2" fill="#1ea3e8"/><circle cx="343.6" cy="251.0" r="2.2" fill="#1ea3e8"/><circle cx="350.0" cy="246.8" r="2.2" fill="#1ea3e8"/><circle cx="353.2" cy="244.2" r="2.2" fill="#1ea3e8"/><circle cx="354.3" cy="248.0" r="2.2" fill="#1ea3e8"/><circle cx="356.4" cy="248.9" r="2.2" fill="#1ea3e8"/><circle cx="358.5" cy="249.1" r="2.2" fill="#1ea3e8"/><circle cx="352.1" cy="251.7" r="2.2" fill="#1ea3e8"/><circle cx="353.2" cy="254.9" r="2.2" fill="#1ea3e8"/><circle cx="363.5" cy="250.2" r="2.2" fill="#1ea3e8"/><circle cx="366.4" cy="250.6" r="2.2" fill="#1ea3e8"/><circle cx="369.2" cy="251.0" r="2.2" fill="#1ea3e8"/><circle cx="320.7" cy="255.9" r="2.2" fill="#1ea3e8"/><circle cx="325.4" cy="252.7" r="2.2" fill="#1ea3e8"/><circle cx="329.7" cy="252.7" r="2.2" fill="#1ea3e8"/><circle cx="336.1" cy="254.9" r="2.2" fill="#1ea3e8"/><circle cx="337.2" cy="256.6" r="2.2" fill="#1ea3e8"/><circle cx="345.7" cy="257.4" r="2.2" fill="#1ea3e8"/><circle cx="348.5" cy="255.3" r="2.2" fill="#1ea3e8"/><circle cx="362.8" cy="257.0" r="2.2" fill="#1ea3e8"/><circle cx="368.6" cy="256.6" r="2.2" fill="#1ea3e8"/><circle cx="370.3" cy="261.3" r="2.2" fill="#1ea3e8"/><circle cx="307.3" cy="261.3" r="2.2" fill="#1ea3e8"/><circle cx="315.8" cy="264.9" r="2.2" fill="#1ea3e8"/><circle cx="323.9" cy="259.8" r="2.2" fill="#1ea3e8"/><circle cx="327.1" cy="264.5" r="2.2" fill="#1ea3e8"/><circle cx="328.6" cy="258.7" r="2.2" fill="#1ea3e8"/><circle cx="334.4" cy="260.6" r="2.2" fill="#1ea3e8"/><circle cx="335.7" cy="262.4" r="2.2" fill="#1ea3e8"/><circle cx="339.9" cy="263.8" r="2.2" fill="#1ea3e8"/><circle cx="350.0" cy="262.4" r="2.2" fill="#1ea3e8"/><circle cx="352.1" cy="265.1" r="2.2" fill="#1ea3e8"/><circle cx="354.3" cy="265.6" r="2.2" fill="#1ea3e8"/><circle cx="357.0" cy="262.4" r="2.2" fill="#1ea3e8"/><circle cx="367.7" cy="265.1" r="2.2" fill="#1ea3e8"/><circle cx="354.3" cy="271.5" r="2.2" fill="#1ea3e8"/><circle cx="291.7" cy="274.7" r="2.2" fill="#1ea3e8"/><circle cx="311.5" cy="279.9" r="2.2" fill="#1ea3e8"/><circle cx="328.2" cy="281.2" r="2.2" fill="#1ea3e8"/><circle cx="340.8" cy="279.4" r="2.2" fill="#1ea3e8"/><circle cx="336.5" cy="283.7" r="2.2" fill="#1ea3e8"/><circle cx="344.6" cy="283.1" r="2.2" fill="#1ea3e8"/><circle cx="347.2" cy="276.7" r="2.2" fill="#1ea3e8"/><circle cx="350.0" cy="280.5" r="2.2" fill="#1ea3e8"/><circle cx="354.3" cy="278.8" r="2.2" fill="#1ea3e8"/><circle cx="354.9" cy="282.6" r="2.2" fill="#1ea3e8"/><circle cx="360.0" cy="279.4" r="2.2" fill="#1a2a9a"/><circle cx="365.4" cy="280.5" r="2.2" fill="#1ea3e8"/><circle cx="367.1" cy="278.8" r="2.2" fill="#1ea3e8"/><circle cx="353.2" cy="288.0" r="2.2" fill="#1ea3e8"/><circle cx="339.9" cy="289.5" r="2.2" fill="#1ea3e8"/><circle cx="300.4" cy="290.1" r="2.2" fill="#1ea3e8"/><circle cx="371.4" cy="290.8" r="2.2" fill="#1a2a9a"/><circle cx="390.8" cy="227.5" r="2.2" fill="#1ea3e8"/><circle cx="387.8" cy="232.4" r="2.2" fill="#1ea3e8"/><circle cx="384.6" cy="243.8" r="2.2" fill="#1ea3e8"/><circle cx="403.8" cy="239.5" r="2.2" fill="#1a2a9a"/><circle cx="404.3" cy="243.1" r="2.2" fill="#1ea3e8"/><circle cx="389.3" cy="249.5" r="2.2" fill="#1ea3e8"/><circle cx="392.1" cy="248.5" r="2.2" fill="#1ea3e8"/><circle cx="388.2" cy="251.7" r="2.2" fill="#1ea3e8"/><circle cx="387.2" cy="255.3" r="2.2" fill="#1ea3e8"/><circle cx="390.4" cy="255.5" r="2.2" fill="#1ea3e8"/><circle cx="398.5" cy="255.9" r="2.2" fill="#1ea3e8"/><circle cx="402.1" cy="258.1" r="2.2" fill="#1ea3e8"/><circle cx="404.3" cy="259.6" r="2.2" fill="#1ea3e8"/><circle cx="406.4" cy="261.3" r="2.2" fill="#1ea3e8"/><circle cx="403.2" cy="261.9" r="2.2" fill="#1ea3e8"/><circle cx="416.4" cy="255.3" r="2.2" fill="#1ea3e8"/><circle cx="379.7" cy="261.3" r="2.2" fill="#1ea3e8"/><circle cx="382.9" cy="262.4" r="2.2" fill="#1a2a9a"/><circle cx="396.4" cy="262.4" r="2.2" fill="#1a2a9a"/><circle cx="394.2" cy="265.1" r="2.2" fill="#1ea3e8"/><circle cx="392.5" cy="267.1" r="2.2" fill="#1a2a9a"/><circle cx="401.7" cy="268.1" r="2.2" fill="#1ea3e8"/><circle cx="375.4" cy="266.6" r="2.2" fill="#1ea3e8"/><circle cx="378.6" cy="267.3" r="2.2" fill="#1ea3e8"/><circle cx="385.0" cy="268.3" r="2.2" fill="#1ea3e8"/><circle cx="373.3" cy="269.4" r="2.2" fill="#1ea3e8"/><circle cx="377.1" cy="272.0" r="2.2" fill="#1a2a9a"/><circle cx="390.4" cy="276.2" r="2.2" fill="#1a2a9a"/><circle cx="400.6" cy="276.9" r="2.2" fill="#1a2a9a"/><circle cx="406.4" cy="280.1" r="2.2" fill="#1ea3e8"/><circle cx="378.0" cy="279.0" r="2.2" fill="#1a2a9a"/><circle cx="386.1" cy="281.6" r="2.2" fill="#1ea3e8"/><circle cx="403.2" cy="284.4" r="2.2" fill="#1ea3e8"/><circle cx="414.5" cy="279.4" r="2.2" fill="#1a2a9a"/><circle cx="417.7" cy="282.2" r="2.2" fill="#1a2a9a"/><circle cx="423.5" cy="275.2" r="2.2" fill="#1ea3e8"/><circle cx="425.6" cy="277.9" r="2.2" fill="#1a2a9a"/><circle cx="431.4" cy="270.9" r="2.2" fill="#1ea3e8"/><circle cx="431.6" cy="280.1" r="2.2" fill="#1a2a9a"/><circle cx="439.5" cy="267.1" r="2.2" fill="#1ea3e8"/><circle cx="441.2" cy="271.5" r="2.2" fill="#1a2a9a"/><circle cx="454.5" cy="277.9" r="2.2" fill="#1a2a9a"/><circle cx="436.3" cy="286.5" r="2.2" fill="#1a2a9a"/><circle cx="439.5" cy="285.2" r="2.2" fill="#1a2a9a"/><circle cx="441.6" cy="283.7" r="2.2" fill="#1a2a9a"/><circle cx="426.3" cy="293.3" r="2.2" fill="#1a2a9a"/><circle cx="373.3" cy="290.8" r="2.2" fill="#1a2a9a"/><circle cx="378.0" cy="290.1" r="2.2" fill="#1a2a9a"/><circle cx="381.4" cy="289.1" r="2.2" fill="#1a2a9a"/><circle cx="382.9" cy="286.9" r="2.2" fill="#1ea3e8"/><circle cx="387.2" cy="289.5" r="2.2" fill="#1ea3e8"/><circle cx="391.4" cy="292.3" r="2.2" fill="#1ea3e8"/><circle cx="396.4" cy="291.6" r="2.2" fill="#1a2a9a"/><circle cx="313.9" cy="300.5" r="2.2" fill="#1a2a9a"/><circle cx="404.3" cy="295.8" r="2.2" fill="#1ea3e8"/><circle cx="373.7" cy="302.0" r="2.2" fill="#1a2a9a"/><circle cx="401.1" cy="304.8" r="2.2" fill="#1a2a9a"/><circle cx="411.7" cy="303.7" r="2.2" fill="#1a2a9a"/><circle cx="418.1" cy="312.7" r="2.2" fill="#1a2a9a"/><circle cx="429.5" cy="299.8" r="2.2" fill="#1a2a9a"/><circle cx="432.7" cy="303.3" r="2.2" fill="#1a2a9a"/><circle cx="437.8" cy="299.0" r="2.2" fill="#1a2a9a"/><circle cx="442.1" cy="303.3" r="2.2" fill="#1a2a9a"/><circle cx="455.5" cy="303.3" r="2.2" fill="#1a2a9a"/><circle cx="450.2" cy="319.7" r="2.2" fill="#1a2a9a"/><circle cx="452.3" cy="320.1" r="2.2" fill="#1a2a9a"/><circle cx="441.6" cy="324.0" r="2.2" fill="#1a2a9a"/><circle cx="440.2" cy="326.1" r="2.2" fill="#1a2a9a"/><circle cx="446.6" cy="328.9" r="2.2" fill="#1a2a9a"/><circle cx="457.0" cy="322.5" r="2.2" fill="#1a2a9a"/><circle cx="460.5" cy="324.6" r="2.2" fill="#1a2a9a"/><circle cx="463.0" cy="322.9" r="2.2" fill="#1a2a9a"/><circle cx="422.8" cy="330.4" r="2.2" fill="#1a2a9a"/><circle cx="419.2" cy="336.8" r="2.2" fill="#1a2a9a"/><circle cx="433.1" cy="336.8" r="2.2" fill="#1a2a9a"/><circle cx="441.6" cy="333.2" r="2.2" fill="#1a2a9a"/><circle cx="442.7" cy="336.4" r="2.2" fill="#1a2a9a"/><circle cx="454.5" cy="332.5" r="2.2" fill="#1a2a9a"/><circle cx="458.7" cy="330.4" r="2.2" fill="#1a2a9a"/><circle cx="460.9" cy="329.3" r="2.2" fill="#1a2a9a"/><circle cx="464.1" cy="329.3" r="2.2" fill="#1a2a9a"/><circle cx="465.6" cy="329.8" r="2.2" fill="#1a2a9a"/><circle cx="457.7" cy="333.6" r="2.2" fill="#1a2a9a"/><circle cx="463.0" cy="334.7" r="2.2" fill="#1a2a9a"/><circle cx="466.2" cy="335.7" r="2.2" fill="#1a2a9a"/><circle cx="464.1" cy="337.4" r="2.2" fill="#1a2a9a"/><circle cx="457.0" cy="338.5" r="2.2" fill="#1a2a9a"/><circle cx="458.3" cy="341.7" r="2.2" fill="#1a2a9a"/><circle cx="461.5" cy="343.9" r="2.2" fill="#1a2a9a"/><circle cx="459.8" cy="336.8" r="2.2" fill="#1a2a9a"/><circle cx="430.5" cy="353.5" r="2.2" fill="#1a2a9a"/><circle cx="436.9" cy="353.5" r="2.2" fill="#1a2a9a"/><circle cx="459.8" cy="364.6" r="2.2" fill="#1a2a9a"/><circle cx="429.5" cy="373.1" r="2.2" fill="#1a2a9a"/><path d="M280.2,219.0 L284.8,221.5 L289.5,224.1 L294.1,226.7 L298.8,229.3 L303.4,231.8 L308.0,234.4 L312.7,237.0 L317.3,239.6 L321.9,242.1 L326.6,244.7 L331.2,247.2 L335.8,249.8 L340.5,252.3 L345.1,254.8 L349.8,257.3 L354.4,259.8 L359.0,262.3 L363.7,264.7 L368.3,267.1 L372.9,269.5 L377.6,271.9 L382.2,274.2 L386.9,276.4 L391.5,278.6 L396.1,280.8 L400.8,282.9 L405.4,285.0 L410.0,287.1 L414.7,289.2 L419.3,291.2 L424.0,293.3 L428.6,295.3 L433.2,297.3 L437.9,299.3 L442.5,301.3 L447.1,303.3 L451.8,305.3 L456.4,307.3 L461.1,309.3 L465.7,311.2 L465.7,323.8 L461.1,321.2 L456.4,318.6 L451.8,316.0 L447.1,313.5 L442.5,310.9 L437.9,308.3 L433.2,305.8 L428.6,303.2 L424.0,300.7 L419.3,298.2 L414.7,295.7 L410.0,293.2 L405.4,290.7 L400.8,288.2 L396.1,285.8 L391.5,283.4 L386.9,281.1 L382.2,278.8 L377.6,276.5 L372.9,274.3 L368.3,272.1 L363.7,269.9 L359.0,267.8 L354.4,265.7 L349.8,263.7 L345.1,261.6 L340.5,259.6 L335.8,257.6 L331.2,255.5 L326.6,253.5 L321.9,251.5 L317.3,249.5 L312.7,247.5 L308.0,245.5 L303.4,243.6 L298.8,241.6 L294.1,239.6 L289.5,237.6 L284.8,235.6 L280.2,233.7 Z" fill="#999" fill-opacity="0.37"/><line x1="280.2" y1="226.3" x2="465.7" y2="317.5" stroke="#1a1a1a" stroke-width="0.95"/><path d="M271,210.8 V380.4 H475" fill="none" stroke="#4a4a4a" stroke-width="1"/><line x1="292.2" y1="380.4" x2="292.2" y2="382.59999999999997" stroke="#777" stroke-width="0.8"/><text x="292.2" y="387.59999999999997" text-anchor="middle" font-family="Liberation Serif" font-size="7" fill="#5a5a5a" class="t" color="#5a5a5a">-2</text><line x1="338.3" y1="380.4" x2="338.3" y2="382.59999999999997" stroke="#777" stroke-width="0.8"/><text x="338.3" y="387.59999999999997" text-anchor="middle" font-family="Liberation Serif" font-size="7" fill="#5a5a5a" class="t" color="#5a5a5a">-1</text><line x1="384.4" y1="380.4" x2="384.4" y2="382.59999999999997" stroke="#777" stroke-width="0.8"/><text x="384.4" y="387.59999999999997" text-anchor="middle" font-family="Liberation Serif" font-size="7" fill="#5a5a5a" class="t" color="#5a5a5a">0</text><line x1="431.2" y1="380.4" x2="431.2" y2="382.59999999999997" stroke="#777" stroke-width="0.8"/><text x="431.2" y="387.59999999999997" text-anchor="middle" font-family="Liberation Serif" font-size="7" fill="#5a5a5a" class="t" color="#5a5a5a">1</text><line x1="268.8" y1="215.8" x2="271" y2="215.8" stroke="#777" stroke-width="0.8"/><text x="268.3" y="218.20000000000002" text-anchor="end" font-family="Liberation Serif" font-size="7" fill="#5a5a5a" class="t" color="#5a5a5a">35</text><line x1="268.8" y1="244.4" x2="271" y2="244.4" stroke="#777" stroke-width="0.8"/><text x="268.3" y="246.8" text-anchor="end" font-family="Liberation Serif" font-size="7" fill="#5a5a5a" class="t" color="#5a5a5a">30</text><line x1="268.8" y1="273" x2="271" y2="273" stroke="#777" stroke-width="0.8"/><text x="268.3" y="275.4" text-anchor="end" font-family="Liberation Serif" font-size="7" fill="#5a5a5a" class="t" color="#5a5a5a">25</text><line x1="268.8" y1="301.7" x2="271" y2="301.7" stroke="#777" stroke-width="0.8"/><text x="268.3" y="304.09999999999997" text-anchor="end" font-family="Liberation Serif" font-size="7" fill="#5a5a5a" class="t" color="#5a5a5a">20</text><line x1="268.8" y1="329.8" x2="271" y2="329.8" stroke="#777" stroke-width="0.8"/><text x="268.3" y="332.2" text-anchor="end" font-family="Liberation Serif" font-size="7" fill="#5a5a5a" class="t" color="#5a5a5a">15</text><line x1="268.8" y1="358.5" x2="271" y2="358.5" stroke="#777" stroke-width="0.8"/><text x="268.3" y="360.9" text-anchor="end" font-family="Liberation Serif" font-size="7" fill="#5a5a5a" class="t" color="#5a5a5a">10</text><text x="249" y="216.8" style="font-family:&quot;Liberation Sans&quot;,sans-serif;font-weight:bold;font-size:17.5px" fill="#000">E</text><text x="372.5" y="396.0" text-anchor="middle" font-family="Liberation Serif" font-size="8.3" fill="#111" class="s" color="#111"><tspan font-style="italic">FKBP5</tspan> PC1</text><text x="300.6" y="342.8" font-family="Liberation Serif" font-size="7.6" fill="#111" class="s" color="#111">b = -4.02,</text><text x="299.5" y="351.90000000000003" font-family="Liberation Serif" font-size="7.6" fill="#111" class="s" color="#111"><tspan font-style="italic">p</tspan> &lt; 0.001</text></g><g><circle cx="577.0" cy="219.6" r="2.2" fill="#1ea3e8"/><circle cx="547.8" cy="241.6" r="2.2" fill="#1ea3e8"/><circle cx="548.8" cy="256.4" r="2.2" fill="#1a2a9a"/><circle cx="583.7" cy="248.9" r="2.2" fill="#1ea3e8"/><circle cx="583.0" cy="252.1" r="2.2" fill="#1ea3e8"/><circle cx="588.4" cy="255.9" r="2.2" fill="#1ea3e8"/><circle cx="562.7" cy="260.9" r="2.2" fill="#1a2a9a"/><circle cx="565.5" cy="260.9" r="2.2" fill="#1ea3e8"/><circle cx="578.7" cy="261.7" r="2.2" fill="#1ea3e8"/><circle cx="546.3" cy="266.0" r="2.2" fill="#1a2a9a"/><circle cx="558.4" cy="265.1" r="2.2" fill="#1ea3e8"/><circle cx="546.7" cy="272.6" r="2.2" fill="#1a2a9a"/><circle cx="551.0" cy="272.0" r="2.2" fill="#1a2a9a"/><circle cx="553.1" cy="273.7" r="2.2" fill="#1a2a9a"/><circle cx="555.7" cy="274.1" r="2.2" fill="#1a2a9a"/><circle cx="529.2" cy="275.2" r="2.2" fill="#1a2a9a"/><circle cx="576.2" cy="269.8" r="2.2" fill="#1ea3e8"/><circle cx="570.2" cy="272.6" r="2.2" fill="#1ea3e8"/><circle cx="563.8" cy="275.8" r="2.2" fill="#1ea3e8"/><circle cx="575.5" cy="276.9" r="2.2" fill="#1a2a9a"/><circle cx="584.1" cy="276.9" r="2.2" fill="#1a2a9a"/><circle cx="561.6" cy="278.8" r="2.2" fill="#1a2a9a"/><circle cx="560.6" cy="281.6" r="2.2" fill="#1a2a9a"/><circle cx="555.2" cy="280.5" r="2.2" fill="#1ea3e8"/><circle cx="554.8" cy="282.2" r="2.2" fill="#1ea3e8"/><circle cx="570.6" cy="283.7" r="2.2" fill="#1a2a9a"/><circle cx="583.0" cy="285.9" r="2.2" fill="#1a2a9a"/><circle cx="580.5" cy="288.6" r="2.2" fill="#1a2a9a"/><circle cx="560.6" cy="290.8" r="2.2" fill="#1ea3e8"/><circle cx="499.7" cy="294.8" r="2.2" fill="#1a2a9a"/><circle cx="551.4" cy="294.4" r="2.2" fill="#1a2a9a"/><circle cx="594.5" cy="232.0" r="2.2" fill="#1a2a9a"/><circle cx="609.9" cy="225.6" r="2.2" fill="#1ea3e8"/><circle cx="621.3" cy="224.5" r="2.2" fill="#1ea3e8"/><circle cx="624.9" cy="223.9" r="2.2" fill="#1ea3e8"/><circle cx="631.3" cy="222.8" r="2.2" fill="#1ea3e8"/><circle cx="639.8" cy="224.3" r="2.2" fill="#1ea3e8"/><circle cx="653.3" cy="217.9" r="2.2" fill="#1ea3e8"/><circle cx="653.9" cy="220.7" r="2.2" fill="#1ea3e8"/><circle cx="669.3" cy="220.7" r="2.2" fill="#1ea3e8"/><circle cx="674.0" cy="221.1" r="2.2" fill="#1ea3e8"/><circle cx="678.3" cy="219.0" r="2.2" fill="#1ea3e8"/><circle cx="679.4" cy="221.8" r="2.2" fill="#1ea3e8"/><circle cx="663.4" cy="229.2" r="2.2" fill="#1ea3e8"/><circle cx="660.8" cy="233.9" r="2.2" fill="#1ea3e8"/><circle cx="604.2" cy="236.1" r="2.2" fill="#1ea3e8"/><circle cx="607.8" cy="236.7" r="2.2" fill="#1ea3e8"/><circle cx="633.4" cy="237.4" r="2.2" fill="#1ea3e8"/><circle cx="634.7" cy="237.8" r="2.2" fill="#1ea3e8"/><circle cx="645.4" cy="236.7" r="2.2" fill="#1ea3e8"/><circle cx="651.2" cy="237.4" r="2.2" fill="#1ea3e8"/><circle cx="656.5" cy="238.8" r="2.2" fill="#1ea3e8"/><circle cx="667.2" cy="236.1" r="2.2" fill="#1ea3e8"/><circle cx="670.4" cy="237.8" r="2.2" fill="#1ea3e8"/><circle cx="673.2" cy="236.7" r="2.2" fill="#1ea3e8"/><circle cx="597.8" cy="243.1" r="2.2" fill="#1ea3e8"/><circle cx="604.2" cy="241.0" r="2.2" fill="#1ea3e8"/><circle cx="607.4" cy="242.5" r="2.2" fill="#1ea3e8"/><circle cx="612.1" cy="243.1" r="2.2" fill="#1ea3e8"/><circle cx="616.3" cy="241.6" r="2.2" fill="#1ea3e8"/><circle cx="624.0" cy="244.6" r="2.2" fill="#1ea3e8"/><circle cx="642.0" cy="243.8" r="2.2" fill="#1ea3e8"/><circle cx="647.5" cy="244.2" r="2.2" fill="#1ea3e8"/><circle cx="653.3" cy="241.0" r="2.2" fill="#1ea3e8"/><circle cx="654.8" cy="243.8" r="2.2" fill="#1ea3e8"/><circle cx="658.6" cy="245.3" r="2.2" fill="#1ea3e8"/><circle cx="661.9" cy="244.2" r="2.2" fill="#1ea3e8"/><circle cx="669.8" cy="242.1" r="2.2" fill="#1ea3e8"/><circle cx="671.5" cy="243.1" r="2.2" fill="#1ea3e8"/><circle cx="592.8" cy="250.6" r="2.2" fill="#1ea3e8"/><circle cx="608.0" cy="248.5" r="2.2" fill="#1ea3e8"/><circle cx="611.2" cy="249.5" r="2.2" fill="#1ea3e8"/><circle cx="622.3" cy="248.5" r="2.2" fill="#1ea3e8"/><circle cx="623.4" cy="246.8" r="2.2" fill="#1ea3e8"/><circle cx="642.0" cy="250.6" r="2.2" fill="#1ea3e8"/><circle cx="644.1" cy="249.5" r="2.2" fill="#1ea3e8"/><circle cx="649.0" cy="248.5" r="2.2" fill="#1ea3e8"/><circle cx="652.2" cy="249.5" r="2.2" fill="#1ea3e8"/><circle cx="667.2" cy="247.4" r="2.2" fill="#1ea3e8"/><circle cx="670.4" cy="248.5" r="2.2" fill="#1ea3e8"/><circle cx="673.6" cy="249.5" r="2.2" fill="#1ea3e8"/><circle cx="675.7" cy="246.3" r="2.2" fill="#1ea3e8"/><circle cx="683.2" cy="252.1" r="2.2" fill="#1ea3e8"/><circle cx="589.2" cy="255.3" r="2.2" fill="#1ea3e8"/><circle cx="591.3" cy="255.3" r="2.2" fill="#1ea3e8"/><circle cx="593.5" cy="255.9" r="2.2" fill="#1a2a9a"/><circle cx="598.8" cy="253.8" r="2.2" fill="#1ea3e8"/><circle cx="600.5" cy="255.3" r="2.2" fill="#1ea3e8"/><circle cx="606.9" cy="252.7" r="2.2" fill="#1ea3e8"/><circle cx="607.4" cy="257.4" r="2.2" fill="#1ea3e8"/><circle cx="609.9" cy="258.1" r="2.2" fill="#1ea3e8"/><circle cx="625.5" cy="256.6" r="2.2" fill="#1ea3e8"/><circle cx="639.4" cy="253.8" r="2.2" fill="#1ea3e8"/><circle cx="644.8" cy="253.8" r="2.2" fill="#1ea3e8"/><circle cx="649.0" cy="253.8" r="2.2" fill="#1ea3e8"/><circle cx="664.0" cy="254.9" r="2.2" fill="#1ea3e8"/><circle cx="666.1" cy="255.9" r="2.2" fill="#1ea3e8"/><circle cx="668.9" cy="255.3" r="2.2" fill="#1ea3e8"/><circle cx="672.5" cy="255.3" r="2.2" fill="#1ea3e8"/><circle cx="590.7" cy="259.1" r="2.2" fill="#1ea3e8"/><circle cx="595.6" cy="258.1" r="2.2" fill="#1ea3e8"/><circle cx="598.4" cy="257.0" r="2.2" fill="#1ea3e8"/><circle cx="646.9" cy="259.1" r="2.2" fill="#1ea3e8"/><circle cx="648.0" cy="258.7" r="2.2" fill="#1ea3e8"/><circle cx="653.9" cy="260.2" r="2.2" fill="#1ea3e8"/><circle cx="661.9" cy="260.2" r="2.2" fill="#1ea3e8"/><circle cx="633.4" cy="260.6" r="2.2" fill="#1ea3e8"/><circle cx="595.6" cy="262.4" r="2.2" fill="#1ea3e8"/><circle cx="620.2" cy="262.4" r="2.2" fill="#1ea3e8"/><circle cx="625.5" cy="263.8" r="2.2" fill="#1ea3e8"/><circle cx="593.1" cy="266.6" r="2.2" fill="#1a2a9a"/><circle cx="670.4" cy="266.0" r="2.2" fill="#1ea3e8"/><circle cx="600.5" cy="270.9" r="2.2" fill="#1a2a9a"/><circle cx="602.0" cy="274.1" r="2.2" fill="#1a2a9a"/><circle cx="608.4" cy="273.5" r="2.2" fill="#1ea3e8"/><circle cx="605.7" cy="279.4" r="2.2" fill="#1ea3e8"/><circle cx="633.0" cy="273.7" r="2.2" fill="#1ea3e8"/><circle cx="635.1" cy="275.2" r="2.2" fill="#1ea3e8"/><circle cx="638.4" cy="276.2" r="2.2" fill="#1ea3e8"/><circle cx="639.4" cy="278.8" r="2.2" fill="#1ea3e8"/><circle cx="648.0" cy="275.8" r="2.2" fill="#1ea3e8"/><circle cx="653.3" cy="277.9" r="2.2" fill="#1ea3e8"/><circle cx="655.4" cy="274.5" r="2.2" fill="#1ea3e8"/><circle cx="658.6" cy="276.7" r="2.2" fill="#1ea3e8"/><circle cx="660.8" cy="268.8" r="2.2" fill="#1ea3e8"/><circle cx="663.4" cy="270.9" r="2.2" fill="#1ea3e8"/><circle cx="598.8" cy="286.9" r="2.2" fill="#1a2a9a"/><circle cx="599.9" cy="288.4" r="2.2" fill="#1ea3e8"/><circle cx="638.4" cy="285.2" r="2.2" fill="#1a2a9a"/><circle cx="642.6" cy="284.8" r="2.2" fill="#1ea3e8"/><circle cx="652.2" cy="283.1" r="2.2" fill="#1ea3e8"/><circle cx="668.3" cy="285.4" r="2.2" fill="#1ea3e8"/><circle cx="658.2" cy="295.0" r="2.2" fill="#1a2a9a"/><circle cx="497.5" cy="299.4" r="2.2" fill="#1a2a9a"/><circle cx="510.8" cy="299.0" r="2.2" fill="#1a2a9a"/><circle cx="528.5" cy="299.4" r="2.2" fill="#1a2a9a"/><circle cx="571.9" cy="300.7" r="2.2" fill="#1a2a9a"/><circle cx="582.4" cy="297.7" r="2.2" fill="#1a2a9a"/><circle cx="583.0" cy="308.6" r="2.2" fill="#1a2a9a"/><circle cx="531.3" cy="316.1" r="2.2" fill="#1a2a9a"/><circle cx="536.0" cy="316.5" r="2.2" fill="#1a2a9a"/><circle cx="531.7" cy="319.3" r="2.2" fill="#1a2a9a"/><circle cx="523.6" cy="319.7" r="2.2" fill="#1a2a9a"/><circle cx="513.6" cy="321.2" r="2.2" fill="#1a2a9a"/><circle cx="541.4" cy="322.9" r="2.2" fill="#1a2a9a"/><circle cx="557.8" cy="320.8" r="2.2" fill="#1a2a9a"/><circle cx="547.8" cy="325.7" r="2.2" fill="#1a2a9a"/><circle cx="518.3" cy="326.8" r="2.2" fill="#1a2a9a"/><circle cx="531.7" cy="326.8" r="2.2" fill="#1a2a9a"/><circle cx="533.9" cy="327.6" r="2.2" fill="#1a2a9a"/><circle cx="534.9" cy="329.8" r="2.2" fill="#1a2a9a"/><circle cx="532.8" cy="329.8" r="2.2" fill="#1a2a9a"/><circle cx="537.1" cy="333.0" r="2.2" fill="#1a2a9a"/><circle cx="552.0" cy="332.5" r="2.2" fill="#1a2a9a"/><circle cx="509.9" cy="330.4" r="2.2" fill="#1a2a9a"/><circle cx="506.5" cy="333.6" r="2.2" fill="#1a2a9a"/><circle cx="508.7" cy="334.0" r="2.2" fill="#1a2a9a"/><circle cx="500.3" cy="334.0" r="2.2" fill="#1a2a9a"/><circle cx="525.8" cy="333.6" r="2.2" fill="#1a2a9a"/><circle cx="528.5" cy="337.4" r="2.2" fill="#1a2a9a"/><circle cx="529.0" cy="340.0" r="2.2" fill="#1a2a9a"/><circle cx="531.7" cy="341.7" r="2.2" fill="#1a2a9a"/><circle cx="502.9" cy="352.0" r="2.2" fill="#1a2a9a"/><circle cx="513.6" cy="351.8" r="2.2" fill="#1a2a9a"/><circle cx="530.9" cy="363.9" r="2.2" fill="#1a2a9a"/><circle cx="505.7" cy="372.5" r="2.2" fill="#1a2a9a"/><circle cx="591.3" cy="299.8" r="2.2" fill="#1a2a9a"/><path d="M497.4,315.1 L502.0,313.1 L506.7,311.2 L511.3,309.2 L515.9,307.3 L520.6,305.3 L525.2,303.3 L529.8,301.4 L534.5,299.4 L539.1,297.4 L543.8,295.4 L548.4,293.4 L553.0,291.4 L557.7,289.4 L562.3,287.4 L566.9,285.4 L571.6,283.4 L576.2,281.3 L580.8,279.2 L585.5,277.1 L590.1,275.0 L594.7,272.8 L599.4,270.6 L604.0,268.3 L608.6,266.0 L613.3,263.7 L617.9,261.3 L622.5,258.9 L627.2,256.5 L631.8,254.1 L636.4,251.6 L641.1,249.1 L645.7,246.7 L650.4,244.2 L655.0,241.6 L659.6,239.1 L664.3,236.6 L668.9,234.1 L673.5,231.6 L678.2,229.0 L682.8,226.5 L682.8,238.3 L678.2,240.3 L673.5,242.2 L668.9,244.2 L664.3,246.2 L659.6,248.2 L655.0,250.2 L650.4,252.1 L645.7,254.1 L641.1,256.2 L636.4,258.2 L631.8,260.2 L627.2,262.3 L622.5,264.4 L617.9,266.5 L613.3,268.6 L608.6,270.8 L604.0,273.0 L599.4,275.2 L594.7,277.5 L590.1,279.8 L585.5,282.2 L580.8,284.6 L576.2,287.0 L571.6,289.4 L566.9,291.9 L562.3,294.4 L557.7,296.9 L553.0,299.4 L548.4,301.9 L543.8,304.4 L539.1,306.9 L534.5,309.4 L529.8,311.9 L525.2,314.5 L520.6,317.0 L515.9,319.5 L511.3,322.1 L506.7,324.6 L502.0,327.2 L497.4,329.7 Z" fill="#999" fill-opacity="0.37"/><line x1="497.4" y1="322.4" x2="682.8" y2="232.4" stroke="#1a1a1a" stroke-width="0.95"/><path d="M488.5,210.3 V380.4 H691.6" fill="none" stroke="#4a4a4a" stroke-width="1"/><line x1="491.2" y1="380.4" x2="491.2" y2="382.59999999999997" stroke="#777" stroke-width="0.8"/><text x="491.2" y="387.59999999999997" text-anchor="middle" font-family="Liberation Serif" font-size="7" fill="#5a5a5a" class="t" color="#5a5a5a">-2</text><line x1="546.3" y1="380.4" x2="546.3" y2="382.59999999999997" stroke="#777" stroke-width="0.8"/><text x="546.3" y="387.59999999999997" text-anchor="middle" font-family="Liberation Serif" font-size="7" fill="#5a5a5a" class="t" color="#5a5a5a">-1</text><line x1="600.7" y1="380.4" x2="600.7" y2="382.59999999999997" stroke="#777" stroke-width="0.8"/><text x="600.7" y="387.59999999999997" text-anchor="middle" font-family="Liberation Serif" font-size="7" fill="#5a5a5a" class="t" color="#5a5a5a">0</text><line x1="655.8" y1="380.4" x2="655.8" y2="382.59999999999997" stroke="#777" stroke-width="0.8"/><text x="655.8" y="387.59999999999997" text-anchor="middle" font-family="Liberation Serif" font-size="7" fill="#5a5a5a" class="t" color="#5a5a5a">1</text><line x1="486.3" y1="237.2" x2="488.5" y2="237.2" stroke="#777" stroke-width="0.8"/><text x="485.8" y="239.6" text-anchor="end" font-family="Liberation Serif" font-size="7" fill="#5a5a5a" class="t" color="#5a5a5a">30</text><line x1="486.3" y1="267" x2="488.5" y2="267" stroke="#777" stroke-width="0.8"/><text x="485.8" y="269.4" text-anchor="end" font-family="Liberation Serif" font-size="7" fill="#5a5a5a" class="t" color="#5a5a5a">25</text><line x1="486.3" y1="297.1" x2="488.5" y2="297.1" stroke="#777" stroke-width="0.8"/><text x="485.8" y="299.5" text-anchor="end" font-family="Liberation Serif" font-size="7" fill="#5a5a5a" class="t" color="#5a5a5a">20</text><line x1="486.3" y1="327.1" x2="488.5" y2="327.1" stroke="#777" stroke-width="0.8"/><text x="485.8" y="329.5" text-anchor="end" font-family="Liberation Serif" font-size="7" fill="#5a5a5a" class="t" color="#5a5a5a">15</text><line x1="486.3" y1="357.1" x2="488.5" y2="357.1" stroke="#777" stroke-width="0.8"/><text x="485.8" y="359.5" text-anchor="end" font-family="Liberation Serif" font-size="7" fill="#5a5a5a" class="t" color="#5a5a5a">10</text><text x="471.7" y="216.8" style="font-family:&quot;Liberation Sans&quot;,sans-serif;font-weight:bold;font-size:17.5px" fill="#000">F</text><text x="589.8" y="396.0" text-anchor="middle" font-family="Liberation Serif" font-size="8.3" fill="#111" class="s" color="#111"><tspan font-style="italic">SLC6A4</tspan> PC1</text><text x="636.5999999999999" y="342.8" font-family="Liberation Serif" font-size="7.6" fill="#111" class="s" color="#111">b = 4.44,</text><text x="635.5" y="351.90000000000003" font-family="Liberation Serif" font-size="7.6" fill="#111" class="s" color="#111"><tspan font-style="italic">p</tspan> &lt; 0.001</text></g><text x="698.8" y="88" font-family="Liberation Serif" font-size="8.2" fill="#111" class="s" color="#111">Age Group</text><circle cx="702.9" cy="95.1" r="2.1" fill="#1ea3e8"/><circle cx="702.9" cy="103" r="2.1" fill="#1a2a9a"/><text x="709.3" y="97.39999999999999" font-family="Liberation Serif" font-size="6.6" fill="#333" class="t" color="#333">0-3</text><text x="709.3" y="105.3" font-family="Liberation Serif" font-size="6.6" fill="#333" class="t" color="#333">3-14</text><text x="700.8" y="289" font-family="Liberation Serif" font-size="8.2" fill="#111" class="s" color="#111">Age Group</text><circle cx="704.7" cy="296.2" r="2.1" fill="#1ea3e8"/><circle cx="704.7" cy="304.3" r="2.1" fill="#1a2a9a"/><text x="710.7" y="298.5" font-family="Liberation Serif" font-size="6.6" fill="#333" class="t" color="#333">0-3</text><text x="710.7" y="306.6" font-family="Liberation Serif" font-size="6.6" fill="#333" class="t" color="#333">3-14</text></svg>
</body></html>
